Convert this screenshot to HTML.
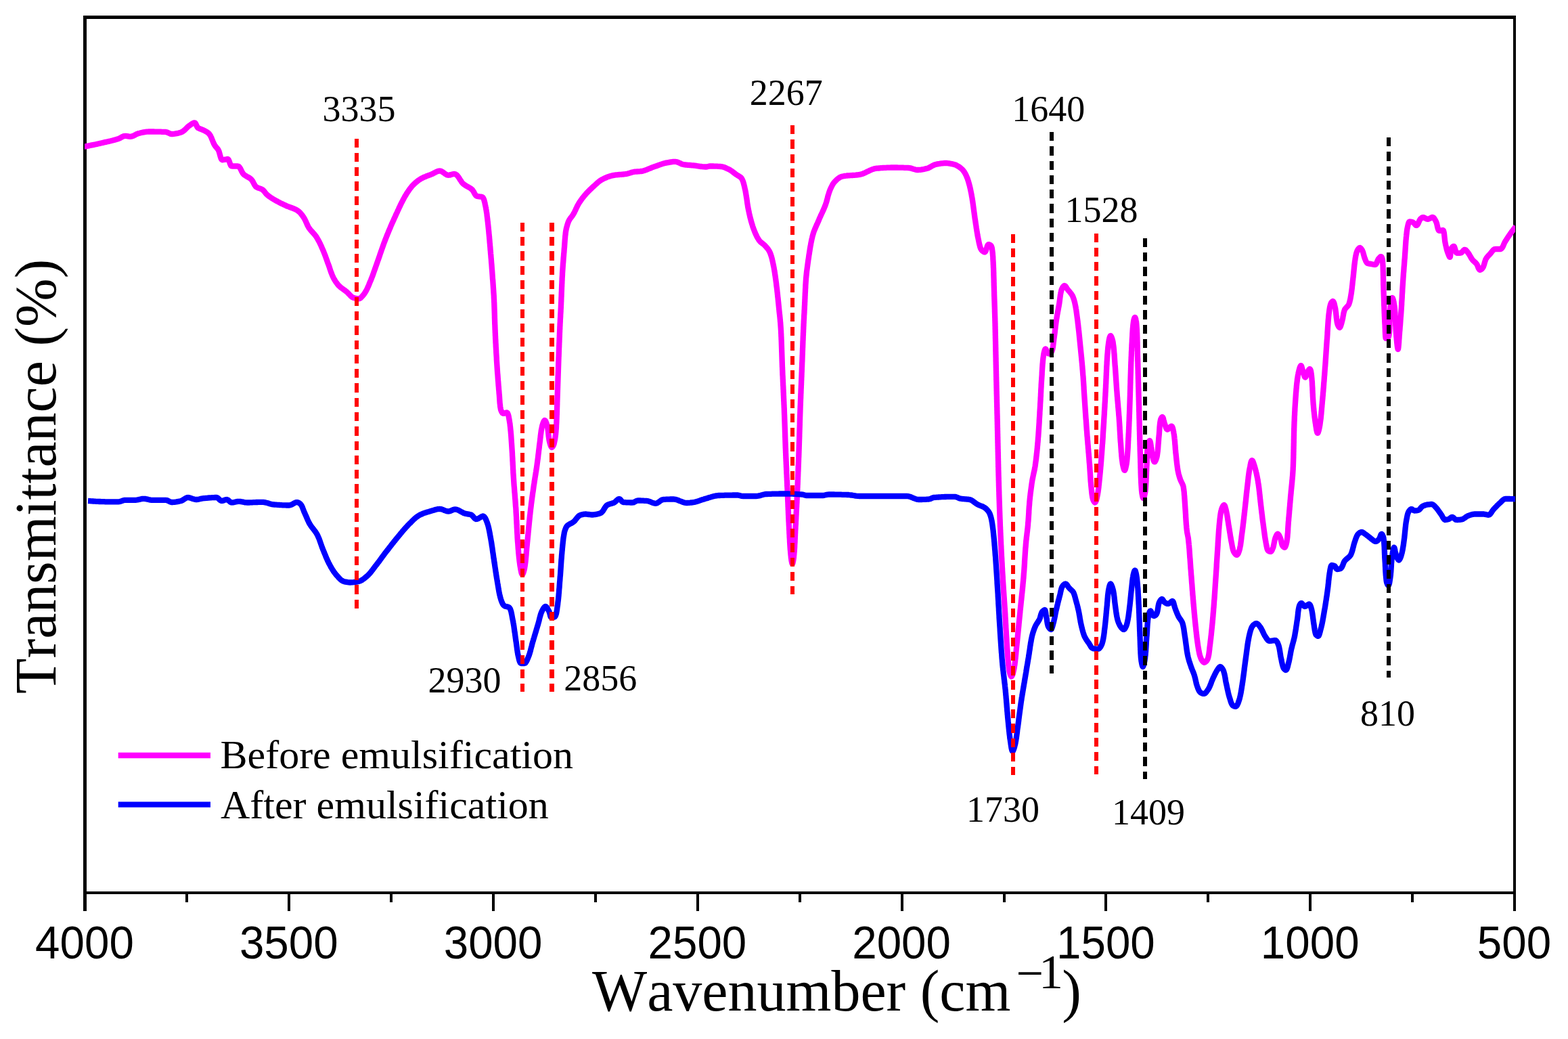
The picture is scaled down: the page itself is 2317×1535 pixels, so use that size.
<!DOCTYPE html>
<html lang="en"><head><meta charset="utf-8"><title>FTIR spectra before and after emulsification</title>
<style>html,body{margin:0;padding:0;background:#fff;}body{width:2317px;height:1535px;overflow:hidden;}svg{display:block;}text{fill:#000;font-kerning:none;}</style>
</head><body>
<svg width="2317" height="1535" viewBox="0 0 2317 1535" role="img" aria-label="FTIR transmittance spectra before and after emulsification">
<rect x="0" y="0" width="2317" height="1535" fill="#ffffff"/>
<defs><clipPath id="plotclip"><rect x="125" y="20" width="2114" height="1300"/></clipPath></defs>
<g id="axes" fill="#000000" shape-rendering="crispEdges">
<rect x="123" y="23" width="5" height="1323"/>
<rect x="123" y="23" width="2117" height="5"/>
<rect x="2236" y="23" width="4" height="1323"/>
<rect x="123" y="1317" width="2117" height="4"/>
<rect x="425" y="1319" width="4" height="27"/>
<rect x="727" y="1319" width="4" height="27"/>
<rect x="1029" y="1319" width="4" height="27"/>
<rect x="1331" y="1319" width="4" height="27"/>
<rect x="1632" y="1319" width="4" height="27"/>
<rect x="1934" y="1319" width="4" height="27"/>
<rect x="274" y="1319" width="4" height="14"/>
<rect x="576" y="1319" width="4" height="14"/>
<rect x="878" y="1319" width="4" height="14"/>
<rect x="1180" y="1319" width="4" height="14"/>
<rect x="1482" y="1319" width="4" height="14"/>
<rect x="1783" y="1319" width="4" height="14"/>
<rect x="2085" y="1319" width="4" height="14"/>
</g>
<g id="curve-before" clip-path="url(#plotclip)">
<polyline fill="none" stroke="#ff00ff" stroke-width="8.33" stroke-linejoin="round" stroke-linecap="butt" points="124.0,216.8 125.5,216.5 126.9,216.2 128.4,215.9 129.9,215.6 131.4,215.3 132.8,215.0 134.3,214.7 135.8,214.4 137.2,214.1 138.7,213.8 140.2,213.5 141.6,213.2 143.1,212.9 144.6,212.5 146.0,212.2 147.5,211.9 149.0,211.5 150.4,211.2 151.9,210.9 153.3,210.5 154.8,210.2 156.3,209.9 157.8,209.5 159.2,209.2 160.7,208.9 162.2,208.5 163.6,208.2 165.1,207.8 166.5,207.5 168.0,207.1 169.4,206.7 170.9,206.3 172.3,205.8 173.7,205.4 175.1,205.0 176.5,204.4 177.9,203.7 179.3,202.9 180.6,202.1 182.0,201.5 183.4,201.0 184.8,200.8 186.3,200.9 187.8,201.1 189.3,201.4 190.8,201.7 192.3,201.8 193.7,201.7 195.1,201.4 196.5,200.9 197.9,200.2 199.3,199.5 200.6,198.8 202.0,198.1 203.4,197.5 204.9,197.0 206.3,196.7 207.8,196.3 209.2,196.0 210.7,195.7 212.2,195.4 213.7,195.1 215.2,194.9 216.7,194.7 218.2,194.6 219.7,194.5 221.1,194.5 222.6,194.5 224.1,194.5 225.7,194.5 227.2,194.5 228.7,194.6 230.2,194.6 231.7,194.6 233.2,194.6 234.7,194.7 236.3,194.7 237.8,194.7 239.2,194.8 240.7,194.8 242.2,194.9 243.7,194.9 245.1,195.0 246.6,195.3 248.0,195.9 249.4,196.6 250.8,197.2 252.2,197.8 253.7,198.0 255.1,198.0 256.6,197.9 258.1,197.7 259.7,197.4 261.2,197.1 262.7,196.8 264.2,196.5 265.6,196.1 267.0,195.7 268.3,195.2 269.5,194.6 270.7,193.8 271.9,192.8 273.0,191.8 274.2,190.7 275.3,189.6 276.4,188.5 277.5,187.4 278.7,186.4 279.9,185.5 281.2,184.7 282.6,183.7 284.0,182.7 285.4,182.0 286.6,181.4 287.7,181.3 288.6,181.9 289.4,183.2 290.1,184.8 290.9,186.5 291.7,188.0 292.7,189.0 293.9,189.6 295.3,190.2 296.8,190.7 298.3,191.3 299.7,191.9 301.0,192.5 302.4,193.2 303.8,194.0 305.2,194.7 306.5,195.6 307.6,196.4 308.7,197.4 309.5,198.4 310.3,199.5 311.1,200.7 311.7,202.1 312.4,203.4 312.9,204.9 313.5,206.3 314.1,207.8 314.7,209.3 315.3,210.7 315.9,212.1 316.6,213.5 317.4,214.8 318.2,216.0 319.2,217.2 320.2,218.3 321.2,219.5 322.1,220.6 322.8,221.9 323.5,223.4 324.0,225.1 324.5,226.9 325.0,228.8 325.5,230.6 326.0,232.3 326.5,233.8 327.0,235.0 327.7,235.8 328.5,236.3 329.5,236.2 330.9,236.0 332.6,235.6 334.3,235.3 335.8,235.0 336.8,235.1 337.7,236.0 338.4,237.5 339.1,239.3 339.7,241.2 340.4,243.0 341.1,244.5 341.9,245.3 343.0,245.5 344.3,245.5 346.0,245.5 347.7,245.5 349.3,245.5 350.8,245.5 351.9,245.6 352.9,246.1 353.8,247.0 354.7,248.2 355.5,249.7 356.3,251.3 357.0,252.9 357.9,254.5 358.7,255.9 359.7,257.2 360.7,258.1 361.9,259.0 363.2,259.8 364.5,260.6 365.9,261.4 367.3,262.1 368.6,262.9 369.8,263.7 370.9,264.6 371.9,265.7 372.8,266.9 373.6,268.2 374.3,269.6 375.1,271.1 375.8,272.5 376.6,273.8 377.4,275.0 378.4,276.0 379.5,276.7 380.8,277.4 382.2,277.9 383.7,278.4 385.2,278.9 386.6,279.5 387.8,280.2 388.9,281.2 390.0,282.2 391.0,283.4 391.9,284.6 392.9,285.8 393.9,287.0 395.0,288.0 396.1,288.9 397.3,289.8 398.5,290.7 399.8,291.6 401.0,292.4 402.3,293.2 403.6,294.0 404.9,294.8 406.2,295.5 407.5,296.3 408.8,297.0 410.1,297.7 411.4,298.4 412.8,299.1 414.1,299.8 415.4,300.5 416.8,301.1 418.2,301.8 419.5,302.4 420.9,303.0 422.2,303.7 423.6,304.3 425.0,304.9 426.5,305.4 427.9,306.0 429.4,306.5 430.8,307.0 432.3,307.5 433.7,308.1 435.1,308.7 436.4,309.3 437.7,309.9 439.0,310.6 440.1,311.4 441.3,312.3 442.4,313.2 443.4,314.3 444.4,315.4 445.4,316.6 446.4,317.9 447.3,319.1 448.2,320.4 449.0,321.6 449.7,322.9 450.5,324.2 451.1,325.5 451.8,326.9 452.4,328.3 453.0,329.7 453.6,331.1 454.2,332.4 454.9,333.8 455.6,335.1 456.3,336.4 457.2,337.6 458.1,338.8 459.0,339.9 460.0,341.1 461.0,342.2 462.1,343.3 463.1,344.5 464.1,345.6 465.1,346.7 466.0,347.9 466.9,349.1 467.7,350.3 468.5,351.6 469.2,352.9 470.0,354.2 470.7,355.5 471.4,356.8 472.1,358.1 472.8,359.5 473.4,360.9 474.1,362.2 474.7,363.6 475.3,365.0 475.9,366.4 476.5,367.7 477.1,369.1 477.7,370.5 478.3,371.9 478.8,373.3 479.4,374.7 479.9,376.1 480.5,377.5 481.0,378.9 481.5,380.3 482.0,381.7 482.5,383.1 483.0,384.5 483.5,385.9 484.0,387.4 484.5,388.8 485.1,390.2 485.6,391.6 486.1,393.0 486.6,394.4 487.1,395.9 487.5,397.3 488.0,398.7 488.5,400.2 489.0,401.6 489.5,403.0 490.1,404.4 490.6,405.8 491.2,407.2 491.8,408.5 492.4,409.8 493.1,411.2 493.8,412.5 494.6,413.8 495.4,415.1 496.2,416.4 497.1,417.6 498.0,418.8 498.9,420.0 499.8,421.1 500.8,422.2 501.9,423.2 503.0,424.2 504.2,425.1 505.4,426.0 506.6,426.9 507.9,427.8 509.1,428.7 510.3,429.6 511.5,430.5 512.7,431.5 513.8,432.5 514.9,433.7 516.0,434.8 517.1,436.0 518.2,437.1 519.3,438.1 520.4,439.0 521.7,439.7 523.0,440.1 524.4,440.5 525.9,440.8 527.5,441.1 529.0,441.3 530.3,441.3 531.6,440.9 532.9,440.1 534.1,439.0 535.2,437.8 536.3,436.5 537.3,435.3 538.1,434.2 539.0,433.0 539.7,431.8 540.5,430.5 541.2,429.2 541.9,427.9 542.6,426.5 543.2,425.1 543.9,423.7 544.5,422.3 545.1,420.9 545.7,419.4 546.2,418.0 546.8,416.6 547.4,415.2 548.0,413.9 548.5,412.5 549.1,411.1 549.6,409.7 550.2,408.3 550.7,406.9 551.2,405.5 551.7,404.1 552.2,402.6 552.7,401.2 553.2,399.8 553.7,398.4 554.2,397.0 554.7,395.5 555.2,394.1 555.7,392.7 556.2,391.3 556.7,389.9 557.2,388.5 557.7,387.0 558.2,385.6 558.7,384.2 559.2,382.8 559.7,381.4 560.2,380.0 560.7,378.5 561.2,377.1 561.6,375.7 562.1,374.3 562.6,372.9 563.1,371.5 563.6,370.0 564.1,368.6 564.6,367.2 565.1,365.8 565.6,364.4 566.1,363.0 566.6,361.5 567.1,360.1 567.6,358.7 568.2,357.3 568.7,355.9 569.2,354.5 569.8,353.1 570.3,351.7 570.9,350.3 571.4,348.9 572.0,347.5 572.5,346.2 573.1,344.8 573.7,343.4 574.2,342.0 574.8,340.6 575.4,339.2 576.0,337.8 576.6,336.5 577.1,335.1 577.7,333.7 578.3,332.3 578.9,330.9 579.5,329.6 580.2,328.2 580.8,326.8 581.4,325.5 582.0,324.1 582.6,322.7 583.2,321.4 583.9,320.0 584.5,318.6 585.1,317.3 585.7,315.9 586.4,314.5 587.0,313.2 587.6,311.8 588.2,310.4 588.9,309.1 589.5,307.7 590.1,306.3 590.8,305.0 591.4,303.6 592.1,302.2 592.7,300.9 593.4,299.5 594.1,298.2 594.8,296.9 595.5,295.5 596.2,294.2 596.9,292.9 597.6,291.6 598.3,290.3 599.1,289.0 599.9,287.7 600.6,286.5 601.4,285.2 602.2,283.9 603.1,282.7 603.9,281.4 604.8,280.2 605.7,278.9 606.6,277.7 607.6,276.6 608.5,275.4 609.5,274.3 610.5,273.3 611.6,272.2 612.7,271.2 613.8,270.2 614.9,269.2 616.1,268.2 617.3,267.2 618.5,266.3 619.8,265.5 621.0,264.7 622.3,263.9 623.6,263.2 624.9,262.6 626.2,261.9 627.6,261.3 629.0,260.8 630.4,260.2 631.8,259.7 633.3,259.1 634.7,258.6 636.1,258.1 637.5,257.5 638.9,256.9 640.3,256.2 641.7,255.4 643.1,254.7 644.5,254.0 645.9,253.4 647.3,252.9 648.7,252.6 650.0,252.5 651.4,252.7 652.7,253.3 654.0,254.1 655.4,255.0 656.7,256.0 658.0,257.0 659.3,257.8 660.7,258.5 662.1,258.8 663.5,258.7 665.0,258.5 666.6,258.0 668.1,257.6 669.6,257.2 670.9,257.0 672.1,257.1 673.3,257.5 674.4,258.2 675.4,259.1 676.4,260.2 677.3,261.5 678.3,262.8 679.2,264.3 680.1,265.8 681.1,267.2 682.0,268.7 683.0,270.0 684.1,271.2 685.2,272.1 686.4,273.0 687.6,273.8 688.9,274.6 690.3,275.4 691.6,276.1 693.0,276.9 694.3,277.6 695.5,278.4 696.7,279.3 697.8,280.3 698.7,281.5 699.6,282.8 700.4,284.3 701.2,285.8 702.0,287.2 702.9,288.5 703.9,289.4 704.9,290.0 706.3,290.2 707.9,290.4 709.7,290.6 711.3,290.7 712.4,291.0 713.2,291.5 713.9,292.3 714.5,293.5 715.1,294.9 715.6,296.5 716.0,298.2 716.5,300.0 716.8,301.8 717.2,303.4 717.5,305.0 717.8,306.4 718.1,307.9 718.3,309.4 718.6,310.8 718.8,312.3 719.0,313.8 719.3,315.3 719.5,316.8 719.6,318.3 719.8,319.8 720.0,321.3 720.2,322.8 720.4,324.3 720.5,325.8 720.7,327.3 720.9,328.7 721.0,330.2 721.2,331.7 721.4,333.2 721.5,334.7 721.7,336.2 721.8,337.7 722.0,339.2 722.1,340.7 722.3,342.2 722.4,343.7 722.5,345.2 722.7,346.7 722.8,348.1 723.0,349.6 723.1,351.1 723.2,352.6 723.4,354.1 723.5,355.6 723.6,357.1 723.7,358.6 723.9,360.1 724.0,361.6 724.1,363.1 724.3,364.6 724.4,366.1 724.5,367.6 724.6,369.1 724.8,370.6 724.9,372.1 725.0,373.6 725.1,375.1 725.3,376.5 725.4,378.0 725.5,379.5 725.6,381.0 725.8,382.5 725.9,384.0 726.0,385.5 726.1,387.0 726.2,388.5 726.4,390.0 726.5,391.5 726.6,393.0 726.7,394.5 726.8,396.0 726.9,397.5 727.1,399.0 727.2,400.5 727.3,402.0 727.4,403.5 727.5,405.0 727.6,406.5 727.7,408.0 727.8,409.5 727.9,411.0 728.0,412.4 728.2,413.9 728.3,415.4 728.4,416.9 728.5,418.4 728.6,419.9 728.7,421.4 728.8,422.9 728.9,424.4 729.0,425.9 729.1,427.4 729.2,428.9 729.3,430.4 729.4,431.9 729.5,433.4 729.6,434.9 729.7,436.4 729.8,437.9 729.8,439.4 729.9,440.9 730.0,442.4 730.1,443.9 730.1,445.4 730.2,446.9 730.3,448.4 730.3,449.9 730.4,451.4 730.4,452.9 730.5,454.4 730.5,455.9 730.6,457.4 730.6,458.9 730.7,460.4 730.7,461.9 730.8,463.4 730.8,464.9 730.9,466.4 730.9,467.9 730.9,469.4 731.0,470.9 731.0,472.4 731.1,473.9 731.1,475.4 731.2,476.9 731.2,478.4 731.3,479.9 731.4,481.4 731.4,482.9 731.5,484.4 731.5,485.9 731.6,487.4 731.7,488.9 731.7,490.4 731.8,491.9 731.9,493.4 731.9,494.9 732.0,496.4 732.1,497.9 732.1,499.4 732.2,500.9 732.3,502.4 732.4,503.9 732.4,505.4 732.5,506.9 732.6,508.3 732.7,509.8 732.7,511.3 732.8,512.8 732.9,514.3 733.0,515.8 733.1,517.3 733.2,518.8 733.2,520.3 733.3,521.8 733.4,523.3 733.5,524.8 733.6,526.3 733.7,527.8 733.8,529.3 733.8,530.8 733.9,532.3 734.0,533.8 734.1,535.3 734.2,536.8 734.3,538.3 734.4,539.8 734.5,541.3 734.6,542.8 734.7,544.3 734.8,545.8 734.9,547.3 735.0,548.8 735.1,550.3 735.2,551.8 735.4,553.3 735.5,554.8 735.6,556.3 735.7,557.8 735.8,559.3 735.9,560.8 736.0,562.2 736.2,563.7 736.3,565.2 736.4,566.7 736.5,568.2 736.6,569.7 736.8,571.2 736.9,572.7 737.0,574.2 737.1,575.7 737.3,577.2 737.4,578.7 737.5,580.2 737.6,581.7 737.8,583.2 737.9,584.7 738.0,586.3 738.1,587.8 738.2,589.4 738.3,590.9 738.4,592.4 738.5,593.9 738.6,595.5 738.8,597.0 739.0,598.4 739.1,599.9 739.3,601.4 739.6,602.8 739.8,604.2 740.1,605.5 740.7,607.2 741.5,608.8 742.4,610.2 743.4,610.9 744.6,610.9 746.3,610.3 747.9,609.7 748.9,609.5 749.7,610.0 750.3,611.0 750.9,612.5 751.4,614.2 751.8,616.1 752.1,617.9 752.4,619.6 752.7,621.1 752.9,622.5 753.1,624.0 753.4,625.5 753.6,626.9 753.7,628.4 753.9,629.9 754.1,631.4 754.2,632.9 754.4,634.4 754.5,635.9 754.7,637.4 754.8,638.9 754.9,640.4 755.1,641.9 755.2,643.4 755.3,644.9 755.4,646.4 755.5,647.9 755.6,649.4 755.7,651.0 755.8,652.5 755.9,654.0 756.0,655.4 756.1,656.9 756.2,658.4 756.3,659.9 756.4,661.4 756.5,662.9 756.6,664.4 756.7,665.9 756.8,667.4 756.9,668.9 757.0,670.4 757.0,671.9 757.1,673.4 757.2,674.9 757.3,676.4 757.4,677.9 757.4,679.4 757.5,680.9 757.6,682.4 757.7,683.9 757.7,685.4 757.8,686.9 757.9,688.4 758.0,689.9 758.0,691.4 758.1,692.9 758.2,694.4 758.3,695.9 758.3,697.4 758.4,698.9 758.5,700.4 758.6,701.9 758.7,703.4 758.8,704.9 758.9,706.4 759.0,707.9 759.1,709.4 759.2,710.9 759.3,712.4 759.4,713.9 759.5,715.4 759.6,716.9 759.7,718.3 759.9,719.8 760.0,721.3 760.1,722.8 760.2,724.3 760.3,725.8 760.4,727.3 760.6,728.8 760.7,730.3 760.8,731.8 760.9,733.3 761.0,734.8 761.1,736.3 761.3,737.8 761.4,739.3 761.5,740.8 761.6,742.3 761.7,743.8 761.8,745.3 761.9,746.8 762.0,748.3 762.2,749.8 762.3,751.3 762.4,752.8 762.5,754.3 762.5,755.7 762.6,757.2 762.7,758.7 762.8,760.2 762.9,761.7 763.0,763.2 763.1,764.7 763.1,766.2 763.2,767.7 763.3,769.2 763.4,770.7 763.4,772.2 763.5,773.7 763.6,775.2 763.7,776.7 763.7,778.2 763.8,779.7 763.9,781.2 764.0,782.7 764.0,784.2 764.1,785.7 764.2,787.2 764.3,788.7 764.4,790.2 764.5,791.7 764.5,793.2 764.6,794.7 764.7,796.2 764.8,797.7 764.9,799.2 765.0,800.7 765.2,802.2 765.3,803.7 765.4,805.2 765.5,806.7 765.6,808.2 765.7,809.7 765.8,811.2 766.0,812.7 766.1,814.2 766.2,815.7 766.3,817.2 766.5,818.7 766.6,820.2 766.8,821.7 766.9,823.2 767.1,824.7 767.3,826.2 767.4,827.6 767.6,829.1 767.8,830.6 768.0,832.1 768.2,833.6 768.4,835.1 768.6,836.5 768.9,838.0 769.2,839.7 769.5,841.6 769.9,843.5 770.3,845.4 770.7,846.9 771.2,848.1 771.6,848.7 772.1,848.7 772.6,847.9 773.2,846.5 773.8,844.8 774.3,842.9 774.8,841.1 775.1,839.6 775.3,838.1 775.6,836.7 775.8,835.2 776.0,833.7 776.2,832.3 776.4,830.8 776.6,829.3 776.7,827.8 776.9,826.3 777.0,824.8 777.2,823.3 777.3,821.8 777.5,820.3 777.6,818.8 777.7,817.3 777.8,815.8 778.0,814.3 778.1,812.8 778.2,811.2 778.3,809.7 778.5,808.2 778.6,806.7 778.8,805.2 778.9,803.8 779.1,802.3 779.2,800.8 779.4,799.3 779.5,797.8 779.7,796.3 779.8,794.8 780.0,793.3 780.1,791.8 780.3,790.3 780.4,788.8 780.5,787.3 780.7,785.8 780.8,784.3 781.0,782.8 781.1,781.4 781.2,779.9 781.4,778.4 781.5,776.9 781.7,775.4 781.8,773.9 782.0,772.4 782.1,770.9 782.3,769.4 782.4,767.9 782.6,766.4 782.7,764.9 782.9,763.4 783.0,761.9 783.2,760.5 783.4,759.0 783.5,757.5 783.7,756.0 783.9,754.5 784.0,753.0 784.2,751.5 784.4,750.0 784.6,748.5 784.8,747.0 784.9,745.6 785.1,744.1 785.3,742.6 785.5,741.1 785.7,739.6 785.9,738.1 786.1,736.6 786.3,735.1 786.5,733.7 786.7,732.2 786.9,730.7 787.1,729.2 787.3,727.7 787.6,726.2 787.8,724.7 788.0,723.3 788.2,721.8 788.4,720.3 788.6,718.8 788.8,717.3 789.0,715.8 789.3,714.4 789.5,712.9 789.7,711.4 789.9,709.9 790.2,708.4 790.4,706.9 790.6,705.5 790.9,704.0 791.1,702.5 791.4,701.0 791.6,699.5 791.8,698.0 792.1,696.6 792.3,695.1 792.5,693.6 792.8,692.1 793.0,690.6 793.2,689.2 793.4,687.7 793.6,686.2 793.8,684.7 794.0,683.2 794.2,681.7 794.4,680.2 794.6,678.7 794.8,677.3 795.0,675.8 795.2,674.3 795.3,672.8 795.5,671.3 795.7,669.8 795.9,668.3 796.0,666.8 796.2,665.3 796.4,663.9 796.6,662.4 796.8,660.9 796.9,659.4 797.1,657.9 797.3,656.4 797.5,654.9 797.7,653.4 797.9,651.9 798.1,650.4 798.2,648.9 798.4,647.4 798.6,645.9 798.7,644.4 798.9,642.9 799.1,641.4 799.3,639.9 799.5,638.4 799.7,636.9 799.9,635.4 800.2,634.0 800.5,632.5 800.8,631.1 801.1,629.7 801.5,628.0 802.1,626.2 802.7,624.4 803.4,622.8 804.1,621.7 804.8,621.0 805.4,621.2 806.1,622.0 806.7,623.4 807.4,625.1 808.0,626.9 808.5,628.7 808.8,630.2 809.2,631.7 809.4,633.1 809.6,634.6 809.8,636.1 810.0,637.6 810.2,639.1 810.3,640.6 810.5,642.1 810.6,643.6 810.8,645.1 811.0,646.6 811.2,648.1 811.4,649.6 811.7,651.1 812.0,652.5 812.4,654.1 812.9,655.9 813.5,657.7 814.1,659.3 814.8,660.5 815.4,661.0 816.1,660.6 817.0,659.4 817.8,657.8 818.5,656.1 818.9,654.6 819.2,653.2 819.5,651.7 819.8,650.3 820.1,648.8 820.3,647.4 820.5,645.9 820.7,644.4 820.9,642.9 821.1,641.4 821.2,639.8 821.4,638.3 821.5,636.8 821.6,635.3 821.8,633.7 821.9,632.2 822.0,630.7 822.0,629.2 822.1,627.7 822.2,626.2 822.3,624.8 822.4,623.3 822.4,621.8 822.5,620.3 822.6,618.8 822.6,617.3 822.7,615.8 822.7,614.3 822.8,612.8 822.9,611.3 822.9,609.8 823.0,608.3 823.0,606.8 823.0,605.3 823.1,603.8 823.1,602.3 823.2,600.8 823.2,599.3 823.3,597.8 823.3,596.3 823.3,594.8 823.4,593.3 823.4,591.8 823.5,590.3 823.5,588.8 823.6,587.3 823.6,585.8 823.7,584.3 823.7,582.8 823.8,581.3 823.8,579.8 823.9,578.3 823.9,576.8 824.0,575.3 824.0,573.8 824.1,572.3 824.1,570.8 824.2,569.3 824.2,567.8 824.3,566.3 824.3,564.8 824.4,563.3 824.4,561.8 824.5,560.3 824.5,558.8 824.6,557.3 824.6,555.8 824.7,554.3 824.7,552.8 824.8,551.3 824.8,549.8 824.9,548.3 824.9,546.8 825.0,545.3 825.0,543.8 825.1,542.3 825.1,540.8 825.2,539.3 825.2,537.8 825.3,536.3 825.3,534.8 825.4,533.3 825.4,531.8 825.5,530.3 825.5,528.8 825.6,527.3 825.7,525.8 825.7,524.3 825.8,522.8 825.8,521.3 825.9,519.8 825.9,518.3 826.0,516.8 826.0,515.3 826.1,513.8 826.2,512.3 826.2,510.8 826.3,509.3 826.3,507.8 826.4,506.3 826.5,504.8 826.5,503.3 826.6,501.8 826.6,500.3 826.7,498.8 826.8,497.3 826.8,495.8 826.9,494.3 826.9,492.8 827.0,491.3 827.1,489.8 827.1,488.3 827.2,486.8 827.3,485.3 827.3,483.8 827.4,482.3 827.5,480.8 827.5,479.3 827.6,477.8 827.7,476.3 827.8,474.8 827.8,473.3 827.9,471.8 828.0,470.3 828.1,468.8 828.2,467.3 828.2,465.8 828.3,464.3 828.4,462.8 828.5,461.3 828.6,459.8 828.6,458.3 828.7,456.8 828.8,455.3 828.9,453.8 828.9,452.3 829.0,450.8 829.1,449.3 829.1,447.8 829.2,446.3 829.3,444.8 829.3,443.3 829.4,441.8 829.4,440.3 829.5,438.9 829.6,437.4 829.6,435.9 829.7,434.4 829.7,432.9 829.8,431.4 829.9,429.9 829.9,428.4 830.0,426.9 830.0,425.4 830.1,423.9 830.2,422.4 830.2,420.9 830.3,419.4 830.4,417.9 830.4,416.4 830.5,414.9 830.6,413.4 830.6,411.9 830.7,410.4 830.8,408.9 830.9,407.4 831.0,405.9 831.0,404.4 831.1,402.9 831.2,401.4 831.3,399.9 831.4,398.4 831.5,396.9 831.6,395.4 831.7,393.9 831.8,392.4 831.9,390.9 832.0,389.4 832.2,387.9 832.3,386.4 832.4,384.9 832.5,383.4 832.6,381.9 832.7,380.4 832.9,378.9 833.0,377.4 833.1,376.0 833.2,374.5 833.4,373.0 833.5,371.5 833.6,370.0 833.7,368.5 833.8,367.0 834.0,365.5 834.1,364.0 834.2,362.5 834.3,361.0 834.4,359.5 834.5,358.0 834.6,356.5 834.7,355.0 834.8,353.5 835.0,352.0 835.1,350.5 835.2,349.0 835.4,347.5 835.6,346.0 835.7,344.5 835.9,343.1 836.1,341.6 836.4,340.1 836.7,338.6 837.0,337.1 837.4,335.7 837.8,334.2 838.2,332.7 838.6,331.3 839.1,329.9 839.6,328.5 840.1,327.1 840.8,325.8 841.5,324.5 842.3,323.3 843.2,322.1 844.1,320.8 845.1,319.6 846.0,318.4 846.8,317.1 847.6,315.8 848.3,314.5 849.0,313.2 849.6,311.8 850.3,310.5 850.9,309.1 851.5,307.7 852.2,306.4 852.8,305.0 853.5,303.7 854.2,302.4 855.0,301.1 855.7,299.8 856.5,298.6 857.4,297.3 858.2,296.1 859.1,294.9 860.0,293.6 860.9,292.4 861.9,291.3 862.8,290.1 863.8,288.9 864.8,287.8 865.7,286.7 866.7,285.5 867.7,284.4 868.8,283.4 869.8,282.3 870.9,281.2 872.0,280.2 873.0,279.1 874.1,278.1 875.2,277.1 876.3,276.0 877.5,275.0 878.6,274.0 879.7,273.0 880.8,272.0 882.0,270.9 883.1,269.9 884.3,268.9 885.4,268.0 886.6,267.1 887.9,266.3 889.1,265.5 890.4,264.8 891.7,264.2 893.0,263.5 894.4,262.9 895.8,262.3 897.2,261.7 898.6,261.2 900.1,260.7 901.5,260.2 903.0,259.8 904.5,259.4 905.9,259.1 907.4,258.8 908.8,258.6 910.3,258.4 911.8,258.3 913.3,258.1 914.8,258.0 916.3,257.9 917.8,257.8 919.3,257.6 920.8,257.5 922.3,257.3 923.8,257.2 925.3,257.0 926.7,256.7 928.2,256.3 929.6,255.9 931.1,255.4 932.5,255.0 934.0,254.5 935.4,254.2 936.9,253.9 938.4,253.7 939.9,253.6 941.4,253.5 942.9,253.4 944.4,253.3 945.9,253.2 947.4,253.0 948.8,252.8 950.3,252.5 951.7,252.1 953.1,251.6 954.5,251.1 955.9,250.6 957.3,250.0 958.7,249.4 960.2,248.9 961.6,248.3 963.0,247.7 964.4,247.2 965.8,246.7 967.2,246.2 968.6,245.7 970.1,245.2 971.5,244.7 972.9,244.1 974.3,243.6 975.7,243.1 977.2,242.6 978.6,242.2 980.0,241.7 981.5,241.3 982.9,240.9 984.3,240.6 985.8,240.3 987.3,240.1 988.8,239.8 990.3,239.5 991.8,239.3 993.3,239.1 994.8,238.9 996.2,238.8 997.7,238.8 999.1,239.0 1000.6,239.3 1002.0,239.9 1003.4,240.5 1004.8,241.1 1006.2,241.8 1007.6,242.4 1009.1,242.8 1010.5,243.1 1012.0,243.3 1013.5,243.5 1015.0,243.6 1016.4,243.8 1017.9,243.9 1019.5,244.0 1021.0,244.1 1022.5,244.3 1024.0,244.4 1025.5,244.5 1026.9,244.7 1028.4,244.9 1029.9,245.2 1031.4,245.4 1032.9,245.6 1034.4,245.8 1035.9,246.0 1037.4,246.2 1038.9,246.3 1040.4,246.4 1041.9,246.5 1043.3,246.5 1044.8,246.3 1046.3,246.0 1047.8,245.7 1049.3,245.5 1050.8,245.5 1052.3,245.5 1053.8,245.5 1055.3,245.6 1056.8,245.6 1058.3,245.7 1059.8,245.7 1061.3,245.8 1062.8,245.9 1064.3,246.0 1065.8,246.1 1067.2,246.3 1068.7,246.7 1070.1,247.1 1071.5,247.7 1072.9,248.3 1074.3,249.0 1075.7,249.6 1077.1,250.3 1078.4,250.9 1079.6,251.7 1080.9,252.5 1082.1,253.4 1083.3,254.3 1084.5,255.2 1085.7,256.2 1086.9,257.1 1088.2,258.0 1089.5,258.8 1090.9,259.6 1092.2,260.5 1093.5,261.3 1094.7,262.3 1095.6,263.2 1096.3,264.3 1096.9,265.5 1097.5,266.8 1098.0,268.2 1098.5,269.6 1098.9,271.1 1099.3,272.6 1099.7,274.2 1100.1,275.7 1100.4,277.3 1100.7,278.8 1101.1,280.3 1101.4,281.7 1101.7,283.2 1101.9,284.6 1102.2,286.1 1102.4,287.6 1102.7,289.1 1102.9,290.6 1103.1,292.0 1103.4,293.5 1103.6,295.0 1103.8,296.5 1104.0,298.0 1104.2,299.5 1104.4,301.0 1104.7,302.5 1104.9,304.0 1105.1,305.4 1105.4,306.9 1105.7,308.4 1106.0,309.9 1106.3,311.3 1106.6,312.8 1106.9,314.3 1107.2,315.7 1107.6,317.2 1107.9,318.7 1108.2,320.1 1108.6,321.6 1109.0,323.1 1109.4,324.5 1109.7,326.0 1110.1,327.4 1110.6,328.9 1111.0,330.3 1111.4,331.7 1111.9,333.1 1112.3,334.6 1112.8,336.0 1113.3,337.4 1113.8,338.8 1114.4,340.2 1114.9,341.7 1115.5,343.1 1116.1,344.5 1116.7,346.0 1117.4,347.3 1118.0,348.7 1118.7,350.1 1119.5,351.4 1120.2,352.6 1121.0,353.9 1121.8,355.1 1122.7,356.2 1123.6,357.2 1124.8,358.2 1126.0,359.2 1127.2,360.1 1128.4,361.0 1129.5,362.0 1130.6,363.1 1131.6,364.2 1132.6,365.4 1133.6,366.5 1134.6,367.7 1135.5,369.0 1136.3,370.2 1137.0,371.5 1137.6,372.8 1138.2,374.1 1138.7,375.5 1139.2,376.9 1139.6,378.3 1140.1,379.8 1140.5,381.3 1140.9,382.7 1141.2,384.2 1141.6,385.7 1141.9,387.2 1142.2,388.7 1142.5,390.1 1142.8,391.6 1143.1,393.1 1143.4,394.5 1143.7,396.0 1143.9,397.5 1144.2,399.0 1144.4,400.4 1144.7,401.9 1144.9,403.4 1145.1,404.9 1145.3,406.4 1145.6,407.9 1145.8,409.4 1146.0,410.9 1146.2,412.3 1146.4,413.8 1146.6,415.3 1146.8,416.8 1147.0,418.3 1147.2,419.8 1147.3,421.3 1147.5,422.8 1147.7,424.3 1147.9,425.7 1148.1,427.2 1148.3,428.7 1148.4,430.2 1148.6,431.7 1148.8,433.2 1148.9,434.7 1149.1,436.2 1149.2,437.7 1149.4,439.2 1149.6,440.7 1149.7,442.1 1149.9,443.6 1150.0,445.1 1150.2,446.6 1150.3,448.1 1150.5,449.6 1150.6,451.1 1150.8,452.6 1150.9,454.1 1151.1,455.6 1151.2,457.1 1151.4,458.6 1151.5,460.1 1151.7,461.6 1151.8,463.0 1152.0,464.5 1152.2,466.0 1152.3,467.5 1152.5,469.0 1152.6,470.5 1152.8,472.0 1152.9,473.5 1153.0,475.0 1153.2,476.5 1153.3,478.0 1153.4,479.5 1153.5,481.0 1153.6,482.5 1153.7,484.0 1153.8,485.5 1153.9,487.0 1154.0,488.5 1154.1,490.0 1154.1,491.4 1154.2,492.9 1154.3,494.4 1154.3,495.9 1154.4,497.4 1154.5,498.9 1154.5,500.4 1154.6,501.9 1154.7,503.4 1154.7,504.9 1154.8,506.4 1154.8,507.9 1154.9,509.4 1154.9,510.9 1155.0,512.4 1155.0,513.9 1155.1,515.4 1155.1,516.9 1155.2,518.4 1155.2,519.9 1155.3,521.4 1155.3,522.9 1155.4,524.4 1155.4,525.9 1155.5,527.4 1155.5,528.9 1155.6,530.4 1155.6,531.9 1155.7,533.4 1155.7,534.9 1155.8,536.4 1155.8,537.9 1155.9,539.4 1155.9,540.9 1156.0,542.4 1156.1,543.9 1156.1,545.4 1156.2,546.9 1156.3,548.4 1156.3,549.9 1156.4,551.4 1156.4,552.9 1156.5,554.4 1156.6,555.9 1156.7,557.4 1156.7,558.9 1156.8,560.4 1156.9,561.9 1156.9,563.4 1157.0,564.9 1157.1,566.4 1157.1,567.9 1157.2,569.4 1157.3,570.9 1157.4,572.4 1157.4,573.9 1157.5,575.4 1157.6,576.9 1157.6,578.4 1157.7,579.9 1157.8,581.4 1157.8,582.9 1157.9,584.4 1158.0,585.9 1158.0,587.4 1158.1,588.9 1158.2,590.4 1158.2,591.9 1158.3,593.4 1158.4,594.9 1158.4,596.4 1158.5,597.9 1158.6,599.4 1158.6,600.9 1158.7,602.4 1158.8,603.9 1158.8,605.4 1158.9,606.9 1158.9,608.4 1159.0,609.9 1159.0,611.4 1159.1,612.9 1159.2,614.4 1159.2,615.9 1159.3,617.4 1159.3,618.9 1159.4,620.4 1159.4,621.9 1159.5,623.4 1159.5,624.9 1159.6,626.4 1159.6,627.9 1159.7,629.4 1159.7,630.9 1159.8,632.4 1159.8,633.9 1159.9,635.4 1159.9,636.9 1160.0,638.4 1160.0,639.9 1160.1,641.4 1160.1,642.9 1160.2,644.4 1160.2,645.9 1160.3,647.4 1160.3,648.9 1160.4,650.4 1160.4,651.9 1160.5,653.4 1160.5,654.9 1160.6,656.4 1160.6,657.9 1160.7,659.4 1160.7,660.9 1160.8,662.4 1160.9,663.9 1160.9,665.3 1161.0,666.8 1161.0,668.3 1161.1,669.8 1161.2,671.3 1161.2,672.8 1161.3,674.3 1161.3,675.8 1161.4,677.3 1161.5,678.8 1161.5,680.3 1161.6,681.8 1161.7,683.3 1161.7,684.8 1161.8,686.3 1161.9,687.8 1161.9,689.3 1162.0,690.8 1162.1,692.3 1162.1,693.8 1162.2,695.3 1162.3,696.8 1162.3,698.3 1162.4,699.8 1162.5,701.3 1162.6,702.8 1162.6,704.3 1162.7,705.8 1162.8,707.3 1162.8,708.8 1162.9,710.3 1163.0,711.8 1163.0,713.3 1163.1,714.8 1163.2,716.3 1163.2,717.8 1163.3,719.3 1163.4,720.8 1163.5,722.3 1163.5,723.8 1163.6,725.3 1163.7,726.8 1163.7,728.3 1163.8,729.8 1163.9,731.3 1163.9,732.8 1164.0,734.3 1164.1,735.8 1164.1,737.3 1164.2,738.8 1164.2,740.3 1164.3,741.8 1164.4,743.3 1164.4,744.8 1164.5,746.3 1164.5,747.8 1164.6,749.3 1164.7,750.8 1164.7,752.3 1164.8,753.8 1164.9,755.3 1164.9,756.8 1165.0,758.3 1165.0,759.8 1165.1,761.3 1165.2,762.8 1165.2,764.3 1165.3,765.8 1165.4,767.3 1165.4,768.8 1165.5,770.3 1165.6,771.8 1165.7,773.3 1165.7,774.8 1165.8,776.3 1165.9,777.8 1166.0,779.3 1166.0,780.8 1166.1,782.3 1166.2,783.8 1166.3,785.3 1166.3,786.8 1166.4,788.3 1166.5,789.8 1166.6,791.3 1166.6,792.8 1166.7,794.3 1166.8,795.8 1166.9,797.3 1167.0,798.8 1167.0,800.3 1167.1,801.8 1167.2,803.3 1167.3,804.8 1167.4,806.3 1167.5,807.8 1167.6,809.3 1167.7,810.8 1167.8,812.2 1168.0,813.7 1168.1,815.2 1168.2,816.7 1168.4,818.2 1168.5,819.7 1168.7,821.2 1168.8,822.7 1169.0,824.4 1169.3,826.3 1169.5,828.2 1169.9,830.0 1170.2,831.6 1170.5,832.6 1170.8,833.0 1171.1,832.6 1171.5,831.6 1171.8,830.1 1172.2,828.3 1172.5,826.4 1172.8,824.4 1173.0,822.7 1173.1,821.3 1173.3,819.8 1173.4,818.3 1173.5,816.8 1173.7,815.3 1173.8,813.8 1173.9,812.3 1174.0,810.8 1174.1,809.3 1174.2,807.8 1174.2,806.3 1174.3,804.8 1174.4,803.3 1174.5,801.8 1174.6,800.3 1174.6,798.8 1174.7,797.3 1174.8,795.8 1174.8,794.3 1174.9,792.8 1175.0,791.3 1175.0,789.8 1175.1,788.3 1175.2,786.8 1175.2,785.3 1175.3,783.8 1175.4,782.3 1175.5,780.8 1175.5,779.3 1175.6,777.8 1175.7,776.3 1175.8,774.8 1175.9,773.3 1175.9,771.8 1176.0,770.3 1176.1,768.8 1176.2,767.3 1176.3,765.8 1176.3,764.3 1176.4,762.8 1176.5,761.3 1176.6,759.8 1176.6,758.3 1176.7,756.8 1176.8,755.3 1176.9,753.8 1176.9,752.3 1177.0,750.8 1177.1,749.3 1177.2,747.8 1177.2,746.3 1177.3,744.9 1177.4,743.4 1177.5,741.9 1177.5,740.4 1177.6,738.9 1177.7,737.4 1177.7,735.9 1177.8,734.4 1177.9,732.9 1177.9,731.4 1178.0,729.9 1178.1,728.4 1178.1,726.9 1178.2,725.4 1178.3,723.9 1178.3,722.4 1178.4,720.9 1178.5,719.4 1178.5,717.9 1178.6,716.4 1178.7,714.9 1178.7,713.4 1178.8,711.9 1178.8,710.4 1178.9,708.9 1179.0,707.4 1179.0,705.9 1179.1,704.4 1179.2,702.9 1179.2,701.4 1179.3,699.9 1179.3,698.4 1179.4,696.9 1179.5,695.4 1179.5,693.9 1179.6,692.4 1179.6,690.9 1179.7,689.4 1179.7,687.9 1179.8,686.4 1179.9,684.9 1179.9,683.4 1180.0,681.9 1180.0,680.4 1180.1,678.9 1180.1,677.4 1180.2,675.9 1180.3,674.4 1180.3,672.9 1180.4,671.4 1180.4,669.9 1180.5,668.4 1180.5,666.9 1180.6,665.4 1180.6,663.9 1180.7,662.4 1180.7,660.9 1180.8,659.4 1180.8,657.9 1180.9,656.4 1180.9,654.9 1181.0,653.4 1181.0,651.9 1181.1,650.4 1181.1,648.9 1181.2,647.4 1181.2,645.9 1181.3,644.4 1181.3,642.9 1181.3,641.4 1181.4,639.9 1181.4,638.4 1181.5,636.9 1181.5,635.4 1181.6,633.9 1181.6,632.4 1181.7,630.9 1181.7,629.4 1181.8,627.9 1181.8,626.4 1181.8,624.9 1181.9,623.4 1181.9,621.9 1182.0,620.4 1182.0,618.9 1182.1,617.4 1182.1,615.9 1182.2,614.4 1182.2,612.9 1182.3,611.4 1182.3,609.9 1182.4,608.4 1182.4,606.9 1182.5,605.4 1182.5,603.9 1182.6,602.4 1182.6,600.9 1182.7,599.4 1182.8,597.9 1182.8,596.4 1182.9,594.9 1182.9,593.4 1183.0,591.9 1183.0,590.4 1183.1,588.9 1183.2,587.4 1183.2,585.9 1183.3,584.4 1183.3,582.9 1183.4,581.4 1183.5,579.9 1183.5,578.4 1183.6,576.9 1183.6,575.4 1183.7,573.9 1183.8,572.4 1183.8,570.9 1183.9,569.4 1184.0,567.9 1184.0,566.5 1184.1,565.0 1184.1,563.5 1184.2,562.0 1184.3,560.5 1184.3,559.0 1184.4,557.5 1184.5,556.0 1184.5,554.5 1184.6,553.0 1184.6,551.5 1184.7,550.0 1184.8,548.5 1184.8,547.0 1184.9,545.5 1184.9,544.0 1185.0,542.5 1185.1,541.0 1185.1,539.5 1185.2,538.0 1185.2,536.5 1185.3,535.0 1185.4,533.5 1185.4,532.0 1185.5,530.5 1185.5,529.0 1185.6,527.5 1185.6,526.0 1185.7,524.5 1185.8,523.0 1185.8,521.5 1185.9,520.0 1185.9,518.5 1186.0,517.0 1186.0,515.5 1186.1,514.0 1186.2,512.5 1186.2,511.0 1186.3,509.5 1186.3,508.0 1186.4,506.5 1186.4,505.0 1186.5,503.5 1186.6,502.0 1186.6,500.5 1186.7,499.0 1186.7,497.5 1186.8,496.0 1186.9,494.5 1186.9,493.0 1187.0,491.5 1187.1,490.0 1187.1,488.5 1187.2,487.0 1187.3,485.5 1187.3,484.0 1187.4,482.5 1187.5,481.0 1187.5,479.5 1187.6,478.0 1187.7,476.5 1187.7,475.0 1187.8,473.5 1187.9,472.0 1188.0,470.5 1188.1,469.0 1188.1,467.5 1188.2,466.0 1188.3,464.5 1188.4,463.0 1188.5,461.5 1188.5,460.0 1188.6,458.5 1188.7,457.0 1188.8,455.5 1188.8,454.0 1188.9,452.5 1189.0,451.0 1189.1,449.5 1189.1,448.0 1189.2,446.5 1189.3,445.0 1189.3,443.5 1189.4,442.0 1189.5,440.5 1189.5,439.0 1189.6,437.5 1189.7,436.0 1189.7,434.5 1189.8,433.0 1189.9,431.5 1190.0,430.0 1190.0,428.5 1190.1,427.0 1190.2,425.6 1190.3,424.1 1190.3,422.6 1190.4,421.1 1190.5,419.6 1190.6,418.1 1190.7,416.6 1190.8,415.1 1190.9,413.6 1191.0,412.1 1191.1,410.6 1191.3,409.1 1191.4,407.6 1191.6,406.1 1191.7,404.6 1191.9,403.1 1192.0,401.6 1192.2,400.2 1192.4,398.7 1192.6,397.2 1192.8,395.7 1193.0,394.2 1193.2,392.7 1193.4,391.2 1193.6,389.7 1193.8,388.2 1194.0,386.8 1194.2,385.3 1194.4,383.8 1194.7,382.3 1194.9,380.8 1195.1,379.3 1195.3,377.8 1195.5,376.4 1195.8,374.9 1196.0,373.4 1196.2,371.9 1196.5,370.4 1196.7,368.9 1196.9,367.4 1197.2,365.9 1197.4,364.4 1197.7,363.0 1198.0,361.5 1198.2,360.0 1198.5,358.5 1198.8,357.1 1199.1,355.6 1199.4,354.1 1199.7,352.7 1200.1,351.2 1200.4,349.8 1200.8,348.3 1201.2,346.9 1201.6,345.5 1202.0,344.1 1202.5,342.7 1203.0,341.2 1203.6,339.8 1204.1,338.5 1204.7,337.1 1205.3,335.7 1205.9,334.3 1206.5,332.9 1207.1,331.5 1207.8,330.2 1208.4,328.8 1209.0,327.4 1209.6,326.0 1210.2,324.6 1210.7,323.3 1211.3,321.9 1212.0,320.5 1212.6,319.1 1213.2,317.8 1213.8,316.4 1214.5,315.0 1215.1,313.7 1215.7,312.3 1216.4,310.9 1217.0,309.6 1217.6,308.2 1218.1,306.8 1218.7,305.4 1219.3,304.0 1219.8,302.6 1220.3,301.2 1220.7,299.8 1221.2,298.4 1221.6,296.9 1222.0,295.5 1222.4,294.0 1222.8,292.5 1223.1,291.1 1223.5,289.6 1223.9,288.2 1224.4,286.7 1224.8,285.3 1225.3,283.9 1225.8,282.5 1226.3,281.1 1226.9,279.7 1227.5,278.3 1228.2,276.9 1228.9,275.5 1229.6,274.1 1230.3,272.8 1231.1,271.5 1231.9,270.3 1232.8,269.2 1233.7,268.2 1234.8,267.1 1235.9,266.0 1237.1,264.9 1238.3,263.9 1239.6,263.0 1240.9,262.1 1242.3,261.4 1243.6,260.9 1245.0,260.5 1246.3,260.3 1247.7,260.0 1249.2,259.8 1250.6,259.7 1252.1,259.5 1253.6,259.4 1255.1,259.3 1256.7,259.2 1258.2,259.1 1259.8,259.0 1261.3,258.9 1262.8,258.8 1264.4,258.7 1265.9,258.5 1267.4,258.4 1268.9,258.2 1270.3,257.9 1271.8,257.6 1273.2,257.2 1274.6,256.8 1276.0,256.2 1277.4,255.6 1278.8,255.0 1280.2,254.3 1281.6,253.6 1283.0,252.9 1284.4,252.3 1285.8,251.6 1287.2,251.0 1288.6,250.4 1290.0,249.9 1291.4,249.5 1292.8,249.1 1294.3,248.9 1295.7,248.7 1297.2,248.6 1298.6,248.5 1300.1,248.4 1301.6,248.2 1303.1,248.1 1304.6,248.0 1306.1,247.9 1307.6,247.9 1309.1,247.8 1310.6,247.7 1312.2,247.7 1313.7,247.6 1315.2,247.6 1316.7,247.5 1318.2,247.5 1319.7,247.5 1321.2,247.5 1322.7,247.5 1324.2,247.5 1325.7,247.5 1327.2,247.6 1328.7,247.6 1330.2,247.6 1331.7,247.6 1333.2,247.7 1334.7,247.7 1336.2,247.8 1337.7,247.8 1339.2,247.9 1340.7,247.9 1342.2,248.0 1343.7,248.1 1345.1,248.4 1346.6,248.7 1348.1,249.2 1349.5,249.7 1351.0,250.1 1352.4,250.5 1353.9,250.8 1355.4,251.0 1356.9,251.0 1358.3,250.9 1359.8,250.8 1361.3,250.6 1362.8,250.3 1364.3,250.1 1365.8,249.8 1367.3,249.4 1368.8,249.1 1370.2,248.8 1371.6,248.3 1373.0,247.7 1374.3,247.0 1375.6,246.2 1377.0,245.4 1378.3,244.7 1379.7,244.0 1381.0,243.4 1382.4,243.0 1383.9,242.7 1385.3,242.4 1386.8,242.1 1388.3,241.9 1389.8,241.6 1391.3,241.4 1392.8,241.3 1394.3,241.1 1395.8,241.0 1397.3,241.0 1398.8,241.0 1400.3,241.1 1401.8,241.3 1403.3,241.5 1404.8,241.8 1406.3,242.1 1407.8,242.4 1409.2,242.8 1410.6,243.2 1412.0,243.6 1413.4,244.3 1414.7,245.0 1416.1,245.8 1417.4,246.6 1418.7,247.6 1419.9,248.5 1421.0,249.5 1422.1,250.5 1423.0,251.5 1423.9,252.7 1424.7,253.8 1425.5,255.1 1426.3,256.4 1427.0,257.8 1427.7,259.2 1428.3,260.7 1428.9,262.1 1429.5,263.5 1430.0,264.9 1430.4,266.3 1430.9,267.7 1431.3,269.1 1431.7,270.6 1432.1,272.0 1432.5,273.5 1432.9,274.9 1433.2,276.4 1433.6,277.9 1433.9,279.3 1434.2,280.8 1434.5,282.3 1434.8,283.8 1435.1,285.3 1435.4,286.8 1435.7,288.2 1435.9,289.7 1436.2,291.2 1436.5,292.7 1436.7,294.1 1436.9,295.6 1437.2,297.1 1437.4,298.6 1437.6,300.1 1437.8,301.5 1438.0,303.0 1438.2,304.5 1438.4,306.0 1438.6,307.5 1438.8,309.0 1439.0,310.5 1439.2,312.0 1439.4,313.5 1439.6,314.9 1439.8,316.4 1440.0,317.9 1440.2,319.4 1440.4,320.9 1440.6,322.4 1440.8,323.9 1441.1,325.4 1441.3,326.8 1441.5,328.3 1441.7,329.8 1441.9,331.3 1442.2,332.8 1442.4,334.3 1442.6,335.8 1442.8,337.2 1443.1,338.7 1443.3,340.2 1443.5,341.7 1443.8,343.2 1444.0,344.7 1444.3,346.1 1444.5,347.6 1444.8,349.1 1445.1,350.6 1445.4,352.0 1445.7,353.5 1446.0,355.0 1446.3,356.4 1446.6,358.0 1446.9,359.5 1447.3,361.1 1447.7,362.6 1448.1,364.1 1448.5,365.6 1449.0,366.9 1449.6,368.1 1450.3,369.2 1451.4,370.4 1452.8,371.5 1454.2,372.3 1455.2,372.5 1456.0,371.9 1456.7,370.6 1457.3,368.9 1457.9,366.9 1458.5,364.9 1459.1,363.2 1459.8,361.8 1460.6,361.1 1461.7,361.2 1463.2,361.9 1464.5,363.1 1465.1,364.2 1465.5,365.3 1465.8,366.5 1466.0,367.9 1466.2,369.3 1466.4,370.8 1466.6,372.4 1466.8,373.9 1466.9,375.6 1467.0,377.2 1467.2,378.8 1467.3,380.5 1467.3,382.1 1467.4,383.7 1467.5,385.2 1467.6,386.7 1467.7,388.2 1467.7,389.7 1467.8,391.2 1467.9,392.6 1467.9,394.1 1468.0,395.6 1468.1,397.1 1468.1,398.6 1468.2,400.1 1468.2,401.6 1468.3,403.1 1468.3,404.6 1468.3,406.1 1468.4,407.6 1468.4,409.1 1468.5,410.6 1468.5,412.1 1468.6,413.6 1468.6,415.1 1468.6,416.6 1468.7,418.1 1468.7,419.7 1468.7,421.2 1468.8,422.7 1468.8,424.2 1468.9,425.7 1468.9,427.2 1469.0,428.7 1469.0,430.2 1469.1,431.7 1469.1,433.2 1469.1,434.7 1469.2,436.2 1469.2,437.7 1469.3,439.1 1469.3,440.6 1469.4,442.1 1469.4,443.6 1469.5,445.1 1469.5,446.6 1469.6,448.1 1469.6,449.6 1469.7,451.1 1469.7,452.6 1469.8,454.1 1469.8,455.6 1469.9,457.1 1469.9,458.6 1469.9,460.1 1470.0,461.6 1470.0,463.1 1470.1,464.6 1470.1,466.1 1470.2,467.6 1470.2,469.1 1470.3,470.6 1470.3,472.1 1470.3,473.6 1470.4,475.1 1470.4,476.6 1470.5,478.1 1470.5,479.6 1470.5,481.1 1470.6,482.6 1470.6,484.1 1470.6,485.6 1470.7,487.1 1470.7,488.6 1470.7,490.1 1470.8,491.6 1470.8,493.1 1470.8,494.6 1470.9,496.1 1470.9,497.6 1470.9,499.1 1471.0,500.6 1471.0,502.1 1471.0,503.6 1471.1,505.1 1471.1,506.6 1471.1,508.1 1471.2,509.6 1471.2,511.1 1471.2,512.6 1471.3,514.1 1471.3,515.6 1471.3,517.1 1471.3,518.6 1471.4,520.1 1471.4,521.6 1471.4,523.1 1471.5,524.6 1471.5,526.1 1471.5,527.6 1471.6,529.1 1471.6,530.6 1471.6,532.1 1471.6,533.6 1471.7,535.1 1471.7,536.6 1471.7,538.1 1471.8,539.6 1471.8,541.1 1471.8,542.6 1471.9,544.1 1471.9,545.6 1471.9,547.1 1472.0,548.6 1472.0,550.1 1472.0,551.6 1472.1,553.1 1472.1,554.6 1472.1,556.1 1472.2,557.6 1472.2,559.1 1472.2,560.6 1472.3,562.1 1472.3,563.6 1472.4,565.1 1472.4,566.6 1472.4,568.1 1472.5,569.6 1472.5,571.1 1472.5,572.6 1472.6,574.1 1472.6,575.6 1472.6,577.1 1472.7,578.6 1472.7,580.1 1472.7,581.6 1472.8,583.1 1472.8,584.6 1472.9,586.1 1472.9,587.6 1472.9,589.1 1473.0,590.6 1473.0,592.1 1473.0,593.6 1473.1,595.1 1473.1,596.6 1473.2,598.1 1473.2,599.6 1473.2,601.1 1473.3,602.6 1473.3,604.1 1473.3,605.6 1473.4,607.1 1473.4,608.6 1473.4,610.1 1473.5,611.6 1473.5,613.1 1473.6,614.6 1473.6,616.1 1473.6,617.6 1473.7,619.1 1473.7,620.6 1473.7,622.1 1473.8,623.6 1473.8,625.1 1473.8,626.6 1473.9,628.1 1473.9,629.6 1473.9,631.1 1474.0,632.6 1474.0,634.1 1474.0,635.6 1474.1,637.1 1474.1,638.6 1474.1,640.1 1474.2,641.6 1474.2,643.1 1474.2,644.6 1474.3,646.1 1474.3,647.6 1474.3,649.1 1474.4,650.6 1474.4,652.1 1474.4,653.6 1474.5,655.1 1474.5,656.6 1474.5,658.1 1474.6,659.6 1474.6,661.1 1474.6,662.6 1474.7,664.1 1474.7,665.6 1474.7,667.1 1474.8,668.6 1474.8,670.1 1474.8,671.6 1474.9,673.1 1474.9,674.6 1474.9,676.1 1475.0,677.6 1475.0,679.1 1475.0,680.6 1475.1,682.1 1475.1,683.6 1475.1,685.1 1475.2,686.6 1475.2,688.1 1475.2,689.6 1475.3,691.1 1475.3,692.6 1475.3,694.1 1475.4,695.6 1475.4,697.1 1475.5,698.6 1475.5,700.1 1475.5,701.6 1475.6,703.1 1475.6,704.6 1475.7,706.1 1475.7,707.6 1475.7,709.1 1475.8,710.6 1475.8,712.1 1475.9,713.6 1475.9,715.1 1475.9,716.6 1476.0,718.1 1476.0,719.6 1476.1,721.1 1476.1,722.6 1476.2,724.1 1476.2,725.6 1476.3,727.1 1476.3,728.6 1476.3,730.1 1476.4,731.6 1476.4,733.1 1476.5,734.6 1476.5,736.1 1476.6,737.6 1476.6,739.1 1476.7,740.6 1476.7,742.1 1476.8,743.6 1476.8,745.1 1476.9,746.6 1476.9,748.1 1477.0,749.6 1477.0,751.1 1477.1,752.6 1477.1,754.1 1477.2,755.6 1477.2,757.1 1477.3,758.6 1477.3,760.1 1477.4,761.6 1477.4,763.1 1477.5,764.6 1477.5,766.1 1477.6,767.6 1477.7,769.1 1477.7,770.6 1477.8,772.1 1477.8,773.6 1477.9,775.1 1477.9,776.6 1478.0,778.1 1478.1,779.6 1478.1,781.1 1478.2,782.6 1478.3,784.1 1478.3,785.6 1478.4,787.1 1478.5,788.6 1478.5,790.1 1478.6,791.6 1478.7,793.1 1478.7,794.6 1478.8,796.1 1478.9,797.6 1478.9,799.1 1479.0,800.6 1479.1,802.1 1479.1,803.6 1479.2,805.1 1479.3,806.6 1479.4,808.1 1479.4,809.6 1479.5,811.1 1479.6,812.6 1479.6,814.1 1479.7,815.6 1479.8,817.1 1479.9,818.6 1479.9,820.1 1480.0,821.6 1480.1,823.0 1480.2,824.5 1480.3,826.0 1480.3,827.5 1480.4,829.0 1480.5,830.5 1480.6,832.0 1480.7,833.5 1480.7,835.0 1480.8,836.5 1480.9,838.0 1481.0,839.5 1481.1,841.0 1481.1,842.5 1481.2,844.0 1481.3,845.5 1481.4,847.0 1481.5,848.5 1481.6,850.0 1481.7,851.5 1481.8,853.0 1481.8,854.5 1481.9,856.0 1482.0,857.5 1482.1,859.0 1482.2,860.5 1482.3,862.0 1482.4,863.5 1482.5,865.0 1482.6,866.5 1482.7,868.0 1482.8,869.5 1482.9,871.0 1483.0,872.5 1483.1,874.0 1483.2,875.5 1483.3,877.0 1483.4,878.5 1483.5,880.0 1483.6,881.4 1483.7,882.9 1483.8,884.4 1483.9,885.9 1484.0,887.4 1484.1,888.9 1484.2,890.4 1484.3,891.9 1484.4,893.4 1484.5,894.9 1484.6,896.4 1484.7,897.9 1484.8,899.4 1484.9,900.9 1485.0,902.4 1485.1,903.9 1485.2,905.4 1485.3,906.9 1485.4,908.4 1485.4,909.9 1485.5,911.4 1485.6,912.9 1485.7,914.4 1485.8,915.9 1485.9,917.4 1485.9,918.9 1486.0,920.4 1486.1,921.9 1486.2,923.4 1486.3,924.9 1486.3,926.4 1486.4,927.9 1486.5,929.4 1486.6,930.9 1486.7,932.4 1486.8,933.9 1486.8,935.4 1486.9,936.9 1487.0,938.4 1487.1,939.9 1487.2,941.4 1487.3,942.9 1487.4,944.4 1487.5,945.9 1487.5,947.4 1487.6,948.9 1487.7,950.3 1487.8,951.8 1487.9,953.3 1488.0,954.8 1488.1,956.3 1488.2,957.8 1488.4,959.3 1488.5,960.8 1488.6,962.3 1488.7,963.8 1488.8,965.3 1488.9,966.8 1489.1,968.3 1489.2,969.8 1489.3,971.3 1489.4,972.8 1489.5,974.4 1489.6,975.9 1489.8,977.4 1489.9,978.9 1490.1,980.4 1490.2,981.9 1490.4,983.4 1490.6,984.9 1490.7,986.4 1491.0,987.9 1491.2,989.3 1491.4,990.8 1491.7,992.2 1492.0,993.6 1492.4,995.2 1493.0,997.1 1493.7,998.6 1494.3,999.5 1494.9,999.3 1495.5,998.4 1496.1,997.0 1496.7,995.3 1497.2,993.5 1497.6,991.6 1498.0,990.0 1498.3,988.6 1498.6,987.1 1498.8,985.7 1499.0,984.2 1499.3,982.7 1499.5,981.3 1499.7,979.8 1499.9,978.3 1500.1,976.8 1500.2,975.3 1500.4,973.8 1500.6,972.3 1500.7,970.8 1500.9,969.3 1501.0,967.8 1501.2,966.3 1501.3,964.8 1501.4,963.3 1501.6,961.8 1501.7,960.3 1501.9,958.8 1502.0,957.3 1502.2,955.8 1502.3,954.3 1502.5,952.8 1502.6,951.3 1502.8,949.8 1503.0,948.3 1503.1,946.8 1503.3,945.3 1503.4,943.8 1503.6,942.3 1503.7,940.8 1503.9,939.3 1504.0,937.9 1504.2,936.4 1504.3,934.9 1504.5,933.4 1504.6,931.9 1504.8,930.4 1504.9,928.9 1505.1,927.4 1505.2,925.9 1505.4,924.4 1505.5,922.9 1505.6,921.4 1505.8,919.9 1505.9,918.4 1506.1,917.0 1506.2,915.5 1506.4,914.0 1506.5,912.5 1506.7,911.0 1506.8,909.5 1507.0,908.0 1507.1,906.5 1507.3,905.0 1507.4,903.5 1507.5,902.0 1507.7,900.5 1507.9,899.0 1508.0,897.5 1508.2,896.1 1508.3,894.6 1508.5,893.1 1508.6,891.6 1508.8,890.1 1508.9,888.6 1509.1,887.1 1509.3,885.6 1509.4,884.1 1509.6,882.6 1509.7,881.1 1509.9,879.6 1510.0,878.1 1510.2,876.7 1510.4,875.2 1510.5,873.7 1510.7,872.2 1510.8,870.7 1511.0,869.2 1511.1,867.7 1511.3,866.2 1511.4,864.7 1511.5,863.2 1511.7,861.7 1511.8,860.2 1512.0,858.7 1512.1,857.2 1512.2,855.7 1512.4,854.3 1512.5,852.8 1512.6,851.3 1512.7,849.8 1512.8,848.3 1512.9,846.8 1513.1,845.3 1513.2,843.8 1513.3,842.3 1513.4,840.8 1513.5,839.3 1513.6,837.8 1513.7,836.3 1513.8,834.8 1513.9,833.3 1514.0,831.8 1514.0,830.3 1514.1,828.8 1514.2,827.3 1514.3,825.8 1514.4,824.3 1514.5,822.8 1514.6,821.3 1514.7,819.8 1514.8,818.3 1514.9,816.8 1515.0,815.3 1515.1,813.8 1515.2,812.3 1515.3,810.8 1515.4,809.4 1515.6,807.9 1515.7,806.4 1515.8,804.9 1515.9,803.4 1516.1,801.9 1516.2,800.4 1516.3,798.9 1516.5,797.4 1516.7,795.9 1516.8,794.4 1517.0,792.9 1517.2,791.4 1517.4,789.9 1517.5,788.5 1517.7,787.0 1517.9,785.5 1518.1,784.0 1518.2,782.5 1518.4,781.0 1518.6,779.5 1518.7,778.0 1518.9,776.5 1519.0,775.0 1519.1,773.5 1519.2,772.0 1519.4,770.5 1519.5,769.1 1519.6,767.6 1519.7,766.1 1519.8,764.6 1519.9,763.1 1520.0,761.6 1520.1,760.1 1520.2,758.6 1520.3,757.1 1520.3,755.6 1520.4,754.1 1520.5,752.6 1520.6,751.1 1520.7,749.6 1520.8,748.1 1521.0,746.6 1521.1,745.1 1521.2,743.6 1521.3,742.1 1521.4,740.6 1521.6,739.1 1521.7,737.6 1521.9,736.1 1522.0,734.6 1522.2,733.2 1522.4,731.7 1522.5,730.2 1522.7,728.7 1522.9,727.2 1523.1,725.7 1523.3,724.2 1523.5,722.7 1523.7,721.2 1523.9,719.7 1524.1,718.3 1524.3,716.8 1524.5,715.3 1524.7,713.8 1525.0,712.3 1525.2,710.8 1525.4,709.4 1525.7,707.9 1526.0,706.4 1526.3,704.9 1526.6,703.5 1526.9,702.0 1527.2,700.5 1527.5,699.1 1527.8,697.6 1528.2,696.1 1528.5,694.7 1528.8,693.2 1529.0,691.7 1529.3,690.2 1529.6,688.8 1529.8,687.3 1530.0,685.8 1530.2,684.3 1530.4,682.8 1530.6,681.4 1530.8,679.9 1531.0,678.4 1531.2,676.9 1531.3,675.4 1531.5,673.9 1531.7,672.4 1531.8,670.9 1532.0,669.4 1532.2,667.9 1532.3,666.4 1532.5,664.9 1532.6,663.5 1532.8,662.0 1532.9,660.5 1533.0,659.0 1533.2,657.5 1533.3,656.0 1533.4,654.5 1533.6,653.0 1533.7,651.5 1533.8,650.0 1533.9,648.5 1534.0,647.0 1534.2,645.5 1534.3,644.0 1534.4,642.5 1534.5,641.0 1534.6,639.5 1534.7,638.0 1534.8,636.5 1534.9,635.0 1535.0,633.5 1535.1,632.0 1535.2,630.5 1535.3,629.1 1535.4,627.6 1535.5,626.1 1535.6,624.6 1535.7,623.1 1535.7,621.6 1535.8,620.1 1535.9,618.6 1536.0,617.1 1536.1,615.6 1536.2,614.1 1536.3,612.6 1536.4,611.1 1536.4,609.6 1536.5,608.1 1536.6,606.6 1536.7,605.1 1536.8,603.6 1536.9,602.1 1537.0,600.6 1537.1,599.1 1537.1,597.6 1537.2,596.1 1537.3,594.6 1537.4,593.1 1537.5,591.6 1537.6,590.1 1537.6,588.6 1537.7,587.1 1537.8,585.6 1537.9,584.1 1537.9,582.6 1538.0,581.1 1538.1,579.6 1538.2,578.1 1538.2,576.6 1538.3,575.1 1538.4,573.6 1538.5,572.1 1538.6,570.6 1538.6,569.1 1538.7,567.6 1538.8,566.1 1538.9,564.6 1539.0,563.1 1539.1,561.6 1539.2,560.1 1539.3,558.6 1539.4,557.1 1539.5,555.7 1539.6,554.2 1539.7,552.7 1539.7,551.2 1539.8,549.6 1539.9,548.1 1540.0,546.6 1540.1,545.1 1540.2,543.6 1540.3,542.1 1540.4,540.6 1540.5,539.1 1540.6,537.6 1540.8,536.1 1540.9,534.6 1541.0,533.1 1541.2,531.6 1541.3,530.1 1541.5,528.7 1541.7,527.2 1541.9,525.7 1542.1,524.2 1542.4,522.5 1542.8,520.6 1543.3,518.7 1543.8,517.1 1544.3,516.0 1544.9,515.5 1545.5,516.0 1546.2,517.3 1547.0,519.2 1547.9,520.9 1548.8,522.2 1549.9,522.5 1551.3,521.9 1552.8,521.0 1553.8,520.0 1554.3,519.0 1554.7,517.8 1555.1,516.6 1555.4,515.2 1555.7,513.7 1556.0,512.2 1556.2,510.6 1556.4,508.9 1556.6,507.3 1556.8,505.6 1557.0,504.0 1557.2,502.4 1557.4,500.8 1557.6,499.4 1557.8,497.9 1558.0,496.4 1558.2,494.9 1558.4,493.4 1558.6,491.9 1558.8,490.4 1558.9,488.9 1559.1,487.4 1559.3,486.0 1559.5,484.5 1559.6,483.0 1559.8,481.5 1560.0,480.0 1560.2,478.5 1560.4,477.0 1560.6,475.5 1560.8,474.0 1561.0,472.6 1561.2,471.1 1561.5,469.6 1561.7,468.1 1562.0,466.6 1562.2,465.2 1562.5,463.7 1562.8,462.2 1563.0,460.7 1563.3,459.3 1563.6,457.8 1563.9,456.3 1564.1,454.8 1564.4,453.4 1564.7,451.9 1564.9,450.4 1565.2,448.9 1565.4,447.4 1565.6,445.9 1565.8,444.4 1566.0,442.8 1566.2,441.3 1566.4,439.7 1566.6,438.2 1566.8,436.7 1567.0,435.2 1567.3,433.7 1567.5,432.3 1567.9,430.9 1568.2,429.5 1568.6,428.1 1569.1,426.8 1569.9,425.2 1570.8,423.7 1571.9,422.5 1572.9,422.0 1573.9,422.4 1574.8,423.4 1575.8,424.9 1576.7,426.4 1577.7,427.7 1578.6,428.9 1579.6,430.0 1580.6,431.2 1581.6,432.4 1582.5,433.6 1583.4,434.8 1584.2,436.0 1584.9,437.3 1585.5,438.6 1586.0,440.0 1586.5,441.4 1587.0,442.8 1587.4,444.3 1587.8,445.8 1588.2,447.2 1588.5,448.7 1588.8,450.2 1589.1,451.6 1589.4,453.1 1589.7,454.6 1589.9,456.1 1590.2,457.5 1590.4,459.0 1590.6,460.5 1590.8,462.0 1591.0,463.5 1591.2,465.0 1591.4,466.5 1591.6,468.0 1591.8,469.5 1592.0,470.9 1592.2,472.4 1592.4,473.9 1592.6,475.4 1592.7,476.9 1592.9,478.4 1593.1,479.9 1593.3,481.4 1593.4,482.9 1593.6,484.4 1593.8,485.8 1593.9,487.3 1594.1,488.8 1594.3,490.3 1594.4,491.8 1594.6,493.3 1594.7,494.8 1594.9,496.3 1595.0,497.8 1595.2,499.3 1595.3,500.8 1595.5,502.3 1595.6,503.8 1595.8,505.3 1595.9,506.7 1596.1,508.2 1596.2,509.7 1596.4,511.2 1596.5,512.7 1596.7,514.2 1596.8,515.7 1597.0,517.2 1597.1,518.7 1597.3,520.2 1597.4,521.7 1597.6,523.2 1597.7,524.7 1597.9,526.2 1598.0,527.6 1598.2,529.1 1598.3,530.6 1598.4,532.1 1598.6,533.6 1598.7,535.1 1598.9,536.6 1599.0,538.1 1599.1,539.6 1599.3,541.1 1599.4,542.6 1599.5,544.1 1599.6,545.6 1599.8,547.1 1599.9,548.6 1600.0,550.1 1600.1,551.6 1600.2,553.0 1600.3,554.5 1600.5,556.0 1600.6,557.5 1600.7,559.0 1600.8,560.5 1600.9,562.0 1601.0,563.5 1601.1,565.0 1601.2,566.5 1601.3,568.0 1601.4,569.5 1601.5,571.0 1601.6,572.5 1601.6,574.0 1601.7,575.5 1601.8,577.0 1601.9,578.5 1602.0,580.0 1602.1,581.5 1602.2,583.0 1602.3,584.5 1602.4,586.0 1602.5,587.5 1602.6,589.0 1602.7,590.5 1602.8,592.0 1602.9,593.5 1603.0,595.0 1603.1,596.5 1603.2,598.0 1603.3,599.5 1603.4,601.0 1603.5,602.4 1603.6,603.9 1603.7,605.4 1603.8,606.9 1603.9,608.4 1604.0,609.9 1604.1,611.4 1604.2,612.9 1604.3,614.4 1604.4,615.9 1604.5,617.4 1604.6,618.9 1604.8,620.4 1604.9,621.9 1605.0,623.4 1605.1,624.9 1605.2,626.4 1605.3,627.9 1605.4,629.4 1605.5,630.9 1605.6,632.4 1605.7,633.9 1605.8,635.4 1606.0,636.9 1606.1,638.4 1606.2,639.9 1606.3,641.4 1606.4,642.9 1606.5,644.3 1606.7,645.8 1606.8,647.3 1606.9,648.8 1607.0,650.3 1607.2,651.8 1607.3,653.3 1607.4,654.8 1607.5,656.3 1607.7,657.8 1607.8,659.3 1607.9,660.8 1608.0,662.3 1608.2,663.8 1608.3,665.3 1608.4,666.8 1608.5,668.3 1608.7,669.8 1608.8,671.3 1608.9,672.8 1609.0,674.2 1609.2,675.7 1609.3,677.2 1609.4,678.7 1609.5,680.2 1609.6,681.7 1609.7,683.2 1609.9,684.7 1610.0,686.2 1610.1,687.7 1610.2,689.2 1610.3,690.7 1610.4,692.2 1610.5,693.7 1610.6,695.2 1610.7,696.7 1610.8,698.2 1610.9,699.7 1611.0,701.2 1611.1,702.7 1611.2,704.2 1611.3,705.7 1611.4,707.2 1611.5,708.7 1611.6,710.2 1611.7,711.7 1611.9,713.2 1612.0,714.7 1612.1,716.1 1612.3,717.6 1612.4,719.1 1612.6,720.6 1612.7,722.1 1612.9,723.6 1613.0,725.2 1613.2,726.7 1613.3,728.2 1613.5,729.7 1613.7,731.2 1614.0,732.7 1614.2,734.2 1614.5,735.6 1614.9,737.0 1615.3,738.5 1616.1,740.2 1617.0,741.6 1617.8,742.5 1618.5,742.2 1619.1,741.2 1619.8,739.6 1620.3,737.8 1620.8,736.0 1621.1,734.5 1621.4,733.0 1621.7,731.6 1622.0,730.1 1622.2,728.7 1622.5,727.2 1622.7,725.7 1622.9,724.2 1623.1,722.7 1623.3,721.2 1623.5,719.7 1623.6,718.2 1623.8,716.7 1624.0,715.2 1624.1,713.7 1624.3,712.2 1624.4,710.7 1624.6,709.2 1624.7,707.7 1624.9,706.2 1625.0,704.7 1625.2,703.2 1625.3,701.7 1625.5,700.2 1625.6,698.8 1625.8,697.3 1625.9,695.8 1626.0,694.3 1626.2,692.8 1626.3,691.3 1626.4,689.8 1626.6,688.3 1626.7,686.8 1626.8,685.3 1626.9,683.8 1627.1,682.3 1627.2,680.8 1627.3,679.3 1627.4,677.8 1627.5,676.3 1627.6,674.8 1627.7,673.3 1627.9,671.8 1628.0,670.3 1628.1,668.8 1628.2,667.3 1628.3,665.9 1628.4,664.4 1628.5,662.9 1628.6,661.4 1628.7,659.9 1628.8,658.4 1628.9,656.9 1629.1,655.4 1629.2,653.9 1629.3,652.4 1629.4,650.9 1629.5,649.4 1629.6,647.9 1629.7,646.4 1629.8,644.9 1629.8,643.4 1629.9,641.9 1630.0,640.4 1630.1,638.9 1630.2,637.4 1630.3,635.9 1630.4,634.4 1630.5,632.9 1630.6,631.4 1630.7,629.9 1630.8,628.4 1630.9,626.9 1631.0,625.4 1631.1,623.9 1631.2,622.4 1631.2,620.9 1631.3,619.4 1631.4,617.9 1631.5,616.4 1631.6,614.9 1631.7,613.5 1631.8,612.0 1631.9,610.5 1631.9,609.0 1632.0,607.5 1632.1,606.0 1632.2,604.5 1632.3,603.0 1632.4,601.5 1632.5,600.0 1632.5,598.5 1632.6,597.0 1632.7,595.5 1632.8,594.0 1632.9,592.5 1633.0,591.0 1633.0,589.5 1633.1,588.0 1633.2,586.5 1633.3,585.0 1633.4,583.5 1633.4,582.0 1633.5,580.5 1633.6,579.0 1633.7,577.5 1633.7,576.0 1633.8,574.5 1633.9,573.0 1634.0,571.5 1634.0,570.0 1634.1,568.5 1634.2,567.0 1634.3,565.5 1634.3,564.0 1634.4,562.5 1634.4,561.0 1634.5,559.5 1634.6,558.0 1634.6,556.5 1634.7,555.0 1634.8,553.5 1634.8,552.0 1634.9,550.5 1635.0,549.0 1635.0,547.5 1635.1,546.0 1635.2,544.5 1635.2,543.0 1635.3,541.5 1635.4,540.0 1635.5,538.5 1635.6,537.0 1635.6,535.5 1635.7,534.0 1635.8,532.5 1635.9,531.0 1636.0,529.6 1636.1,528.1 1636.2,526.6 1636.3,525.0 1636.4,523.5 1636.6,522.0 1636.7,520.5 1636.8,519.0 1636.9,517.5 1637.1,516.0 1637.2,514.5 1637.3,513.0 1637.5,511.5 1637.7,510.0 1637.9,508.5 1638.1,507.1 1638.3,505.6 1638.5,504.1 1638.8,502.7 1639.1,501.0 1639.5,499.2 1640.1,497.5 1640.6,496.3 1641.2,496.0 1641.7,496.7 1642.4,497.9 1643.0,499.5 1643.6,501.3 1644.1,503.2 1644.5,504.8 1644.7,506.2 1644.9,507.7 1645.1,509.2 1645.3,510.6 1645.5,512.1 1645.7,513.6 1645.8,515.1 1646.0,516.6 1646.1,518.1 1646.2,519.6 1646.3,521.1 1646.5,522.6 1646.6,524.1 1646.7,525.6 1646.8,527.1 1646.9,528.6 1647.0,530.1 1647.1,531.7 1647.2,533.2 1647.3,534.7 1647.4,536.2 1647.5,537.7 1647.6,539.2 1647.7,540.7 1647.9,542.1 1648.0,543.6 1648.1,545.1 1648.2,546.6 1648.3,548.1 1648.4,549.6 1648.5,551.1 1648.6,552.6 1648.7,554.1 1648.8,555.6 1648.9,557.1 1649.0,558.6 1649.1,560.1 1649.2,561.6 1649.3,563.1 1649.4,564.6 1649.5,566.1 1649.6,567.6 1649.7,569.1 1649.8,570.6 1649.9,572.1 1650.0,573.6 1650.1,575.1 1650.2,576.6 1650.4,578.1 1650.5,579.6 1650.6,581.1 1650.7,582.6 1650.8,584.1 1650.9,585.5 1651.1,587.0 1651.2,588.5 1651.3,590.0 1651.4,591.5 1651.6,593.0 1651.7,594.5 1651.8,596.0 1652.0,597.5 1652.1,599.0 1652.2,600.5 1652.3,602.0 1652.5,603.5 1652.6,605.0 1652.7,606.5 1652.9,608.0 1653.0,609.5 1653.1,611.0 1653.2,612.5 1653.3,614.0 1653.5,615.4 1653.6,616.9 1653.7,618.4 1653.8,619.9 1653.9,621.4 1654.0,622.9 1654.1,624.4 1654.2,625.9 1654.3,627.4 1654.4,628.9 1654.5,630.4 1654.6,631.9 1654.6,633.4 1654.7,634.9 1654.8,636.4 1654.9,637.9 1655.0,639.4 1655.1,640.9 1655.2,642.4 1655.3,643.9 1655.3,645.4 1655.4,646.9 1655.5,648.4 1655.6,649.9 1655.7,651.4 1655.8,652.9 1656.0,654.4 1656.1,655.9 1656.2,657.4 1656.3,658.9 1656.4,660.4 1656.5,661.9 1656.6,663.4 1656.7,664.9 1656.8,666.4 1656.9,667.9 1657.1,669.4 1657.2,670.9 1657.3,672.4 1657.4,673.9 1657.6,675.4 1657.7,676.9 1657.9,678.4 1658.1,679.8 1658.3,681.3 1658.5,682.8 1658.7,684.3 1658.9,685.8 1659.3,687.5 1659.7,689.4 1660.2,691.3 1660.7,693.0 1661.1,694.2 1661.6,694.9 1662.0,694.9 1662.4,694.3 1662.9,693.2 1663.3,691.7 1663.7,689.9 1664.1,688.0 1664.5,686.1 1664.8,684.2 1665.0,682.6 1665.2,681.1 1665.3,679.6 1665.5,678.2 1665.6,676.7 1665.7,675.2 1665.9,673.7 1666.0,672.2 1666.1,670.7 1666.2,669.2 1666.3,667.7 1666.4,666.2 1666.5,664.7 1666.6,663.2 1666.7,661.7 1666.8,660.2 1666.8,658.7 1666.9,657.2 1667.0,655.7 1667.1,654.2 1667.1,652.7 1667.2,651.2 1667.3,649.7 1667.3,648.2 1667.4,646.7 1667.5,645.2 1667.6,643.7 1667.6,642.2 1667.7,640.7 1667.8,639.2 1667.9,637.7 1667.9,636.2 1668.0,634.7 1668.1,633.2 1668.1,631.7 1668.2,630.2 1668.3,628.7 1668.3,627.2 1668.4,625.7 1668.4,624.2 1668.5,622.7 1668.6,621.2 1668.6,619.7 1668.7,618.2 1668.7,616.7 1668.8,615.2 1668.8,613.7 1668.9,612.2 1669.0,610.7 1669.0,609.2 1669.1,607.7 1669.1,606.2 1669.2,604.7 1669.2,603.2 1669.3,601.7 1669.3,600.2 1669.4,598.7 1669.4,597.2 1669.5,595.7 1669.5,594.2 1669.6,592.7 1669.6,591.2 1669.7,589.7 1669.7,588.2 1669.8,586.7 1669.8,585.2 1669.9,583.7 1669.9,582.2 1669.9,580.7 1670.0,579.2 1670.0,577.7 1670.1,576.2 1670.1,574.7 1670.2,573.2 1670.2,571.7 1670.2,570.2 1670.3,568.7 1670.3,567.2 1670.4,565.7 1670.4,564.2 1670.4,562.7 1670.5,561.2 1670.5,559.7 1670.6,558.2 1670.6,556.7 1670.7,555.2 1670.7,553.7 1670.8,552.2 1670.8,550.7 1670.9,549.2 1670.9,547.7 1671.0,546.2 1671.0,544.7 1671.1,543.2 1671.1,541.7 1671.2,540.2 1671.2,538.7 1671.3,537.2 1671.3,535.7 1671.4,534.2 1671.5,532.7 1671.5,531.2 1671.6,529.7 1671.6,528.2 1671.7,526.7 1671.8,525.2 1671.8,523.7 1671.9,522.2 1671.9,520.7 1672.0,519.2 1672.1,517.7 1672.2,516.2 1672.2,514.7 1672.3,513.2 1672.4,511.7 1672.4,510.2 1672.5,508.7 1672.6,507.2 1672.7,505.7 1672.8,504.2 1672.8,502.7 1672.9,501.3 1673.0,499.8 1673.1,498.3 1673.2,496.8 1673.3,495.2 1673.3,493.7 1673.4,492.2 1673.5,490.7 1673.6,489.2 1673.7,487.7 1673.8,486.2 1673.9,484.7 1674.1,483.2 1674.2,481.7 1674.3,480.2 1674.5,478.7 1674.7,477.3 1674.9,475.8 1675.1,474.3 1675.5,472.5 1676.1,470.6 1676.6,469.3 1677.0,468.8 1677.4,469.2 1677.9,470.3 1678.3,471.7 1678.6,473.5 1679.0,475.4 1679.2,477.4 1679.4,479.1 1679.5,480.7 1679.6,482.2 1679.7,483.6 1679.8,485.1 1679.9,486.6 1680.0,488.1 1680.0,489.6 1680.1,491.1 1680.2,492.6 1680.2,494.1 1680.3,495.6 1680.3,497.1 1680.4,498.6 1680.4,500.1 1680.4,501.6 1680.5,503.1 1680.5,504.6 1680.6,506.1 1680.6,507.6 1680.6,509.1 1680.7,510.6 1680.7,512.1 1680.7,513.6 1680.8,515.1 1680.8,516.6 1680.8,518.2 1680.9,519.7 1680.9,521.2 1680.9,522.7 1681.0,524.2 1681.0,525.7 1681.1,527.2 1681.1,528.7 1681.2,530.2 1681.2,531.7 1681.2,533.2 1681.3,534.7 1681.3,536.2 1681.4,537.7 1681.4,539.2 1681.4,540.7 1681.5,542.2 1681.5,543.7 1681.6,545.2 1681.6,546.7 1681.7,548.2 1681.7,549.7 1681.7,551.2 1681.8,552.7 1681.8,554.2 1681.9,555.7 1681.9,557.2 1681.9,558.7 1682.0,560.2 1682.0,561.7 1682.0,563.2 1682.1,564.7 1682.1,566.2 1682.2,567.7 1682.2,569.2 1682.2,570.7 1682.3,572.2 1682.3,573.7 1682.4,575.2 1682.4,576.7 1682.4,578.2 1682.5,579.7 1682.5,581.2 1682.5,582.7 1682.6,584.2 1682.6,585.7 1682.7,587.2 1682.7,588.7 1682.7,590.2 1682.8,591.7 1682.8,593.2 1682.9,594.7 1682.9,596.1 1682.9,597.6 1683.0,599.1 1683.0,600.6 1683.1,602.1 1683.1,603.6 1683.1,605.1 1683.2,606.6 1683.2,608.1 1683.3,609.6 1683.3,611.1 1683.3,612.6 1683.4,614.1 1683.4,615.6 1683.4,617.1 1683.5,618.6 1683.5,620.1 1683.6,621.6 1683.6,623.1 1683.6,624.6 1683.7,626.1 1683.7,627.6 1683.7,629.1 1683.8,630.6 1683.8,632.1 1683.8,633.6 1683.9,635.1 1683.9,636.6 1684.0,638.1 1684.0,639.6 1684.0,641.1 1684.1,642.6 1684.1,644.1 1684.2,645.6 1684.2,647.1 1684.2,648.6 1684.3,650.1 1684.3,651.6 1684.4,653.1 1684.4,654.6 1684.4,656.1 1684.5,657.6 1684.5,659.1 1684.6,660.6 1684.6,662.1 1684.6,663.6 1684.7,665.1 1684.7,666.6 1684.8,668.1 1684.8,669.6 1684.9,671.1 1684.9,672.6 1685.0,674.1 1685.0,675.6 1685.1,677.1 1685.1,678.6 1685.2,680.1 1685.2,681.6 1685.2,683.1 1685.3,684.7 1685.3,686.2 1685.4,687.7 1685.4,689.2 1685.4,690.7 1685.5,692.2 1685.5,693.7 1685.6,695.2 1685.6,696.7 1685.6,698.2 1685.7,699.7 1685.7,701.2 1685.8,702.7 1685.8,704.2 1685.9,705.7 1686.0,707.2 1686.0,708.7 1686.1,710.2 1686.2,711.7 1686.2,713.2 1686.3,714.7 1686.4,716.2 1686.5,717.7 1686.6,719.2 1686.7,720.7 1686.8,722.1 1686.9,723.6 1687.0,725.1 1687.2,726.8 1687.4,728.6 1687.8,730.6 1688.1,732.4 1688.5,734.1 1688.9,735.3 1689.3,735.9 1689.7,735.9 1690.1,735.2 1690.6,734.0 1691.1,732.3 1691.5,730.5 1691.9,728.6 1692.3,726.7 1692.5,725.1 1692.6,723.6 1692.8,722.1 1692.9,720.7 1693.0,719.2 1693.1,717.7 1693.2,716.2 1693.3,714.7 1693.4,713.2 1693.5,711.7 1693.6,710.2 1693.6,708.7 1693.7,707.2 1693.8,705.7 1693.8,704.2 1693.9,702.7 1693.9,701.2 1694.0,699.7 1694.0,698.2 1694.1,696.6 1694.2,695.1 1694.2,693.6 1694.3,692.1 1694.3,690.6 1694.4,689.1 1694.5,687.6 1694.6,686.1 1694.6,684.6 1694.7,683.1 1694.7,681.6 1694.8,680.1 1694.8,678.5 1694.9,677.0 1694.9,675.5 1695.0,674.0 1695.0,672.5 1695.1,670.9 1695.2,669.4 1695.2,667.9 1695.3,666.4 1695.4,664.9 1695.5,663.5 1695.6,662.0 1695.7,660.5 1695.8,659.1 1696.0,657.6 1696.3,656.0 1696.9,654.2 1697.6,652.5 1698.3,651.4 1698.9,651.0 1699.3,651.6 1699.7,652.8 1700.1,654.5 1700.4,656.4 1700.7,658.3 1701.0,660.0 1701.3,661.5 1701.5,663.0 1701.7,664.5 1701.9,666.0 1702.1,667.5 1702.3,669.0 1702.5,670.5 1702.7,672.0 1702.9,673.4 1703.2,674.9 1703.5,676.3 1703.9,677.8 1704.4,679.5 1705.0,681.2 1705.7,682.4 1706.4,682.4 1707.1,681.5 1707.8,680.1 1708.5,678.3 1709.1,676.5 1709.5,675.0 1709.8,673.5 1710.0,672.1 1710.2,670.7 1710.4,669.2 1710.6,667.7 1710.8,666.2 1710.9,664.7 1711.1,663.2 1711.2,661.7 1711.3,660.2 1711.4,658.7 1711.5,657.2 1711.6,655.7 1711.8,654.2 1711.9,652.6 1712.0,651.1 1712.1,649.6 1712.2,648.1 1712.3,646.6 1712.5,645.1 1712.6,643.6 1712.8,642.1 1712.9,640.6 1713.0,639.0 1713.1,637.5 1713.2,635.9 1713.3,634.4 1713.4,632.9 1713.5,631.3 1713.6,629.8 1713.8,628.3 1713.9,626.8 1714.1,625.4 1714.3,623.9 1714.5,622.5 1714.8,621.1 1715.1,619.7 1715.8,618.1 1716.7,616.6 1717.5,616.0 1718.1,616.4 1718.6,617.4 1719.1,618.9 1719.5,620.7 1720.0,622.6 1720.5,624.4 1721.0,626.0 1721.5,627.5 1722.1,629.3 1722.7,631.1 1723.3,632.7 1724.0,633.9 1724.8,634.5 1725.7,634.2 1726.9,633.2 1728.2,631.8 1729.5,630.5 1730.6,629.6 1731.3,629.6 1732.0,630.3 1732.6,631.5 1733.1,633.1 1733.5,634.9 1733.9,636.8 1734.3,638.6 1734.5,640.2 1734.8,641.7 1735.0,643.1 1735.2,644.6 1735.4,646.1 1735.5,647.6 1735.7,649.0 1735.8,650.5 1736.0,652.0 1736.1,653.5 1736.2,655.0 1736.3,656.5 1736.5,658.0 1736.6,659.6 1736.7,661.1 1736.8,662.6 1736.9,664.1 1737.1,665.6 1737.2,667.1 1737.3,668.6 1737.5,670.1 1737.7,671.6 1737.8,673.0 1738.0,674.5 1738.1,676.0 1738.3,677.5 1738.4,679.0 1738.6,680.5 1738.8,682.0 1738.9,683.5 1739.1,685.0 1739.3,686.5 1739.5,688.0 1739.7,689.5 1739.9,691.0 1740.1,692.4 1740.3,693.9 1740.6,695.4 1740.9,696.8 1741.2,698.3 1741.5,699.8 1741.9,701.2 1742.3,702.7 1742.7,704.1 1743.2,705.6 1743.6,707.0 1744.1,708.4 1744.7,709.8 1745.3,711.2 1746.0,712.6 1746.7,713.9 1747.3,715.3 1747.9,716.7 1748.4,718.1 1748.7,719.5 1748.9,721.0 1749.1,722.4 1749.3,723.9 1749.5,725.3 1749.7,726.8 1749.8,728.3 1749.9,729.8 1750.0,731.3 1750.2,732.8 1750.3,734.3 1750.4,735.9 1750.5,737.4 1750.6,738.9 1750.7,740.4 1750.8,741.9 1750.9,743.4 1751.0,744.9 1751.1,746.4 1751.2,747.9 1751.3,749.4 1751.4,750.9 1751.5,752.4 1751.6,753.9 1751.7,755.4 1751.8,756.9 1751.9,758.4 1752.0,759.9 1752.1,761.4 1752.1,762.9 1752.2,764.4 1752.3,765.9 1752.4,767.4 1752.5,768.9 1752.6,770.4 1752.7,771.9 1752.8,773.4 1752.9,774.9 1753.1,776.4 1753.2,777.9 1753.3,779.4 1753.5,780.8 1753.6,782.3 1753.8,783.8 1754.0,785.3 1754.2,786.8 1754.5,788.2 1754.8,789.7 1755.1,791.2 1755.4,792.7 1755.7,794.1 1755.9,795.6 1756.1,797.1 1756.2,798.6 1756.4,800.1 1756.5,801.6 1756.7,803.1 1756.8,804.6 1757.0,806.0 1757.1,807.5 1757.2,809.0 1757.4,810.5 1757.5,812.0 1757.6,813.5 1757.7,815.0 1757.8,816.5 1757.9,818.0 1758.0,819.5 1758.1,821.0 1758.2,822.5 1758.3,824.0 1758.5,825.5 1758.6,827.0 1758.7,828.5 1758.8,830.0 1758.9,831.5 1759.0,833.0 1759.1,834.5 1759.2,836.0 1759.3,837.5 1759.4,839.0 1759.5,840.5 1759.7,842.0 1759.8,843.5 1759.9,845.0 1760.0,846.5 1760.1,848.0 1760.2,849.5 1760.4,851.0 1760.5,852.5 1760.6,853.9 1760.7,855.4 1760.8,856.9 1760.9,858.4 1761.0,859.9 1761.1,861.4 1761.3,862.9 1761.4,864.4 1761.5,865.9 1761.6,867.4 1761.7,868.9 1761.8,870.4 1761.9,871.9 1762.1,873.4 1762.2,874.9 1762.3,876.4 1762.4,877.9 1762.5,879.4 1762.7,880.9 1762.8,882.4 1762.9,883.9 1763.0,885.4 1763.2,886.9 1763.3,888.3 1763.4,889.8 1763.5,891.3 1763.7,892.8 1763.8,894.3 1763.9,895.8 1764.1,897.3 1764.2,898.8 1764.3,900.3 1764.5,901.8 1764.6,903.3 1764.7,904.8 1764.9,906.3 1765.0,907.8 1765.2,909.3 1765.3,910.8 1765.4,912.3 1765.6,913.8 1765.7,915.2 1765.9,916.7 1766.0,918.2 1766.2,919.7 1766.3,921.2 1766.5,922.7 1766.6,924.2 1766.8,925.7 1767.0,927.2 1767.1,928.7 1767.3,930.2 1767.4,931.7 1767.6,933.2 1767.8,934.6 1767.9,936.1 1768.1,937.6 1768.3,939.1 1768.4,940.6 1768.6,942.1 1768.8,943.6 1769.0,945.1 1769.2,946.6 1769.4,948.1 1769.6,949.6 1769.8,951.0 1770.0,952.5 1770.2,954.0 1770.5,955.5 1770.7,957.0 1771.0,958.4 1771.2,959.9 1771.5,961.4 1771.8,962.9 1772.1,964.5 1772.4,966.0 1772.8,967.4 1773.2,968.9 1773.7,970.3 1774.1,971.6 1774.7,972.9 1775.4,974.4 1776.3,976.0 1777.4,977.4 1778.4,978.4 1779.5,978.8 1780.6,978.4 1781.8,977.5 1783.1,976.2 1784.0,974.8 1784.6,973.5 1785.0,972.2 1785.4,970.9 1785.7,969.5 1786.0,968.1 1786.3,966.6 1786.5,965.1 1786.7,963.6 1786.9,962.0 1787.1,960.4 1787.3,958.9 1787.4,957.3 1787.6,955.7 1787.8,954.2 1788.0,952.7 1788.2,951.2 1788.4,949.7 1788.5,948.2 1788.7,946.7 1788.9,945.3 1789.1,943.8 1789.3,942.3 1789.4,940.8 1789.6,939.3 1789.8,937.8 1789.9,936.3 1790.1,934.8 1790.2,933.3 1790.4,931.8 1790.5,930.3 1790.7,928.8 1790.8,927.4 1791.0,925.9 1791.1,924.4 1791.3,922.9 1791.4,921.4 1791.6,919.9 1791.7,918.4 1791.8,916.9 1792.0,915.4 1792.1,913.9 1792.2,912.4 1792.4,910.9 1792.5,909.4 1792.6,907.9 1792.7,906.4 1792.9,904.9 1793.0,903.4 1793.1,902.0 1793.2,900.5 1793.3,899.0 1793.5,897.5 1793.6,896.0 1793.7,894.5 1793.8,893.0 1793.9,891.5 1794.0,890.0 1794.1,888.5 1794.2,887.0 1794.4,885.5 1794.5,884.0 1794.6,882.5 1794.7,881.0 1794.8,879.5 1794.9,878.0 1795.0,876.5 1795.1,875.0 1795.2,873.5 1795.3,872.0 1795.4,870.5 1795.5,869.0 1795.6,867.5 1795.7,866.0 1795.8,864.5 1795.9,863.0 1796.0,861.5 1796.1,860.1 1796.2,858.6 1796.3,857.1 1796.4,855.6 1796.5,854.1 1796.6,852.6 1796.7,851.1 1796.8,849.6 1796.9,848.1 1797.0,846.6 1797.1,845.1 1797.2,843.6 1797.3,842.1 1797.4,840.6 1797.5,839.1 1797.6,837.6 1797.7,836.1 1797.7,834.6 1797.8,833.1 1797.9,831.6 1798.0,830.1 1798.1,828.6 1798.2,827.1 1798.3,825.6 1798.4,824.1 1798.5,822.6 1798.6,821.1 1798.7,819.6 1798.8,818.1 1798.9,816.6 1799.0,815.1 1799.1,813.6 1799.2,812.1 1799.3,810.6 1799.4,809.1 1799.5,807.6 1799.6,806.1 1799.7,804.6 1799.7,803.1 1799.8,801.7 1799.9,800.2 1800.0,798.7 1800.1,797.2 1800.2,795.7 1800.3,794.2 1800.4,792.7 1800.5,791.2 1800.6,789.7 1800.7,788.2 1800.8,786.7 1800.9,785.2 1801.0,783.7 1801.1,782.2 1801.3,780.7 1801.4,779.2 1801.5,777.7 1801.6,776.2 1801.8,774.7 1801.9,773.2 1802.1,771.7 1802.2,770.2 1802.4,768.7 1802.5,767.2 1802.7,765.7 1802.9,764.2 1803.1,762.6 1803.3,761.1 1803.5,759.6 1803.8,758.2 1804.0,756.7 1804.3,755.3 1804.7,753.8 1805.0,752.5 1805.6,750.9 1806.3,749.2 1807.2,747.6 1808.1,746.4 1808.8,746.0 1809.4,746.4 1810.0,747.5 1810.5,749.1 1811.0,750.9 1811.5,752.7 1811.9,754.5 1812.2,755.9 1812.5,757.4 1812.8,758.8 1813.1,760.3 1813.4,761.8 1813.6,763.3 1813.9,764.7 1814.1,766.2 1814.3,767.7 1814.5,769.2 1814.8,770.7 1815.0,772.2 1815.2,773.7 1815.4,775.2 1815.7,776.7 1815.9,778.1 1816.2,779.6 1816.4,781.1 1816.6,782.6 1816.9,784.1 1817.1,785.6 1817.3,787.0 1817.6,788.5 1817.8,790.0 1818.0,791.5 1818.3,793.0 1818.5,794.4 1818.8,795.9 1819.0,797.4 1819.3,798.9 1819.6,800.4 1819.9,801.8 1820.2,803.3 1820.4,804.8 1820.7,806.3 1821.0,807.9 1821.3,809.4 1821.7,810.9 1822.0,812.3 1822.5,813.7 1823.0,815.0 1823.7,816.3 1824.8,817.8 1825.9,819.1 1827.0,819.9 1827.9,819.9 1828.7,819.1 1829.6,817.8 1830.3,816.1 1830.9,814.4 1831.4,812.8 1831.8,811.4 1832.1,809.9 1832.4,808.5 1832.7,807.0 1833.0,805.6 1833.2,804.1 1833.4,802.6 1833.6,801.1 1833.8,799.6 1834.0,798.1 1834.2,796.6 1834.4,795.0 1834.5,793.5 1834.7,792.0 1834.9,790.5 1835.1,789.0 1835.3,787.6 1835.5,786.1 1835.7,784.6 1835.9,783.1 1836.1,781.6 1836.3,780.1 1836.5,778.6 1836.7,777.1 1836.8,775.7 1837.0,774.2 1837.2,772.7 1837.4,771.2 1837.5,769.7 1837.7,768.2 1837.9,766.7 1838.1,765.2 1838.2,763.7 1838.4,762.2 1838.6,760.8 1838.7,759.3 1838.9,757.8 1839.1,756.3 1839.2,754.8 1839.4,753.3 1839.6,751.8 1839.7,750.3 1839.9,748.8 1840.1,747.3 1840.2,745.8 1840.4,744.3 1840.5,742.9 1840.7,741.4 1840.9,739.9 1841.0,738.4 1841.2,736.9 1841.3,735.4 1841.5,733.9 1841.6,732.4 1841.8,730.9 1841.9,729.4 1842.1,727.9 1842.3,726.4 1842.4,725.0 1842.6,723.5 1842.8,722.0 1842.9,720.5 1843.1,719.0 1843.3,717.5 1843.5,716.0 1843.6,714.5 1843.8,713.0 1844.0,711.5 1844.1,710.0 1844.3,708.5 1844.5,707.0 1844.6,705.5 1844.8,704.0 1845.0,702.5 1845.2,701.1 1845.4,699.6 1845.6,698.1 1845.8,696.6 1846.1,695.1 1846.3,693.7 1846.6,692.2 1846.9,690.7 1847.2,689.2 1847.5,687.5 1847.9,685.6 1848.3,683.7 1848.8,682.0 1849.3,680.8 1849.8,680.1 1850.3,680.1 1850.8,680.7 1851.4,681.7 1851.9,683.0 1852.5,684.7 1853.1,686.5 1853.7,688.3 1854.2,690.2 1854.7,691.9 1855.1,693.4 1855.5,694.8 1855.9,696.3 1856.2,697.7 1856.6,699.2 1856.9,700.6 1857.2,702.1 1857.5,703.6 1857.8,705.1 1858.1,706.5 1858.4,708.0 1858.6,709.5 1858.9,711.0 1859.1,712.5 1859.3,714.0 1859.6,715.4 1859.8,716.9 1860.0,718.4 1860.2,719.9 1860.4,721.4 1860.6,722.9 1860.7,724.3 1860.9,725.8 1861.1,727.3 1861.2,728.8 1861.4,730.3 1861.6,731.8 1861.7,733.3 1861.9,734.8 1862.0,736.3 1862.2,737.8 1862.4,739.3 1862.5,740.8 1862.7,742.3 1862.9,743.7 1863.0,745.2 1863.2,746.7 1863.4,748.2 1863.6,749.7 1863.7,751.2 1863.9,752.7 1864.1,754.2 1864.3,755.7 1864.4,757.2 1864.6,758.6 1864.8,760.1 1865.0,761.6 1865.2,763.1 1865.3,764.6 1865.5,766.1 1865.7,767.6 1865.9,769.1 1866.1,770.6 1866.3,772.0 1866.5,773.5 1866.7,775.0 1866.9,776.5 1867.1,778.0 1867.3,779.5 1867.5,781.0 1867.7,782.5 1867.9,784.0 1868.1,785.4 1868.3,786.9 1868.5,788.4 1868.7,789.9 1868.9,791.4 1869.1,792.9 1869.3,794.4 1869.6,795.9 1869.8,797.3 1870.1,798.8 1870.4,800.3 1870.6,801.7 1870.9,803.2 1871.2,804.8 1871.5,806.5 1871.9,808.2 1872.2,809.8 1872.6,811.3 1873.2,812.6 1873.8,813.5 1874.7,814.2 1876.3,814.8 1877.7,815.0 1878.7,814.3 1879.6,812.9 1880.3,811.2 1880.9,809.7 1881.4,808.4 1881.8,806.9 1882.1,805.5 1882.4,804.0 1882.7,802.5 1883.0,801.0 1883.3,799.5 1883.6,798.0 1884.0,796.5 1884.4,795.1 1885.0,793.6 1885.7,791.9 1886.5,790.3 1887.3,789.2 1888.1,788.8 1889.0,789.4 1889.9,790.6 1890.7,792.2 1891.5,793.9 1892.1,795.3 1892.6,796.7 1892.9,798.2 1893.3,799.8 1893.6,801.3 1893.9,802.8 1894.3,804.3 1894.8,805.6 1895.6,806.8 1896.8,808.1 1897.9,808.8 1898.7,808.5 1899.4,807.5 1900.0,806.0 1900.6,804.2 1901.0,802.4 1901.4,800.6 1901.6,799.2 1901.8,797.7 1902.0,796.3 1902.2,794.8 1902.4,793.3 1902.5,791.8 1902.6,790.3 1902.7,788.8 1902.9,787.3 1903.0,785.8 1903.1,784.3 1903.2,782.8 1903.2,781.3 1903.3,779.8 1903.4,778.3 1903.5,776.8 1903.6,775.2 1903.7,773.7 1903.8,772.2 1903.9,770.7 1904.1,769.2 1904.2,767.7 1904.3,766.2 1904.4,764.7 1904.6,763.3 1904.7,761.8 1904.8,760.3 1905.0,758.8 1905.1,757.3 1905.2,755.8 1905.3,754.3 1905.5,752.8 1905.6,751.3 1905.7,749.8 1905.9,748.3 1906.0,746.8 1906.1,745.3 1906.2,743.8 1906.4,742.3 1906.5,740.8 1906.6,739.3 1906.8,737.8 1906.9,736.3 1907.0,734.9 1907.1,733.4 1907.3,731.9 1907.4,730.4 1907.6,728.9 1907.7,727.4 1907.8,725.9 1908.0,724.4 1908.1,722.9 1908.3,721.4 1908.4,719.9 1908.6,718.4 1908.7,716.9 1908.9,715.4 1909.0,713.9 1909.2,712.4 1909.3,710.9 1909.4,709.4 1909.6,708.0 1909.7,706.5 1909.8,705.0 1910.0,703.5 1910.1,702.0 1910.2,700.5 1910.3,699.0 1910.4,697.5 1910.5,696.0 1910.6,694.5 1910.7,693.0 1910.7,691.5 1910.8,690.0 1910.9,688.5 1910.9,687.0 1911.0,685.5 1911.0,684.0 1911.1,682.5 1911.1,681.0 1911.2,679.5 1911.2,678.0 1911.3,676.5 1911.3,675.0 1911.3,673.5 1911.4,672.0 1911.4,670.5 1911.4,669.0 1911.5,667.5 1911.5,666.0 1911.5,664.5 1911.6,663.0 1911.6,661.5 1911.6,660.0 1911.7,658.5 1911.7,657.0 1911.7,655.5 1911.8,654.0 1911.8,652.5 1911.8,651.0 1911.8,649.5 1911.9,648.0 1911.9,646.5 1911.9,645.0 1912.0,643.5 1912.0,642.0 1912.0,640.5 1912.1,639.0 1912.1,637.5 1912.2,636.0 1912.2,634.5 1912.2,633.0 1912.3,631.5 1912.3,630.0 1912.4,628.5 1912.4,627.0 1912.5,625.5 1912.5,624.0 1912.6,622.5 1912.7,621.0 1912.7,619.5 1912.8,618.0 1912.8,616.5 1912.9,615.0 1913.0,613.5 1913.1,612.0 1913.1,610.5 1913.2,609.0 1913.3,607.5 1913.4,606.0 1913.4,604.5 1913.5,603.0 1913.6,601.5 1913.7,600.0 1913.8,598.5 1913.9,597.0 1914.0,595.5 1914.1,594.0 1914.2,592.5 1914.3,591.0 1914.4,589.5 1914.5,588.0 1914.6,586.6 1914.7,585.1 1914.8,583.6 1914.9,582.1 1915.0,580.6 1915.2,579.1 1915.3,577.6 1915.4,576.1 1915.5,574.6 1915.7,573.1 1915.8,571.6 1915.9,570.1 1916.1,568.6 1916.2,567.1 1916.4,565.6 1916.6,564.1 1916.8,562.6 1916.9,561.1 1917.1,559.6 1917.4,558.1 1917.6,556.6 1917.8,555.2 1918.1,553.7 1918.4,552.2 1918.6,550.8 1919.0,549.3 1919.4,547.6 1919.9,545.7 1920.4,543.9 1921.0,542.2 1921.6,540.9 1922.2,540.2 1922.7,540.1 1923.2,540.9 1923.6,542.3 1924.1,544.1 1924.6,546.0 1925.0,547.6 1925.5,549.2 1926.1,551.0 1926.6,552.9 1927.1,554.6 1927.7,556.1 1928.2,557.1 1928.8,557.5 1929.3,557.1 1929.9,556.0 1930.4,554.5 1931.0,552.7 1931.6,550.9 1932.2,549.3 1933.1,547.9 1934.1,546.3 1935.1,545.2 1935.7,545.1 1936.2,545.8 1936.7,547.0 1937.1,548.7 1937.4,550.6 1937.7,552.5 1937.9,554.3 1938.1,555.8 1938.2,557.3 1938.4,558.8 1938.5,560.3 1938.6,561.7 1938.8,563.2 1938.9,564.7 1939.0,566.2 1939.0,567.7 1939.1,569.2 1939.2,570.7 1939.3,572.2 1939.4,573.7 1939.4,575.2 1939.5,576.7 1939.6,578.2 1939.6,579.7 1939.7,581.2 1939.8,582.7 1939.8,584.3 1939.9,585.8 1940.0,587.3 1940.1,588.8 1940.2,590.3 1940.3,591.8 1940.4,593.3 1940.5,594.8 1940.6,596.3 1940.7,597.7 1940.9,599.2 1941.0,600.7 1941.1,602.2 1941.3,603.7 1941.4,605.2 1941.5,606.7 1941.7,608.2 1941.9,609.7 1942.0,611.2 1942.2,612.7 1942.4,614.2 1942.5,615.7 1942.7,617.2 1942.9,618.7 1943.1,620.1 1943.3,621.6 1943.5,623.1 1943.7,624.6 1944.0,626.1 1944.2,627.9 1944.5,629.8 1944.8,631.7 1945.1,633.7 1945.4,635.5 1945.8,637.1 1946.1,638.4 1946.5,639.4 1946.8,639.9 1947.2,639.9 1947.6,639.2 1948.1,637.9 1948.6,636.2 1949.1,634.4 1949.5,632.5 1949.9,630.7 1950.1,629.2 1950.4,627.8 1950.6,626.3 1950.8,624.8 1951.0,623.3 1951.2,621.8 1951.4,620.4 1951.6,618.9 1951.8,617.4 1951.9,615.9 1952.1,614.4 1952.2,612.9 1952.4,611.4 1952.5,609.9 1952.6,608.4 1952.8,606.9 1952.9,605.4 1953.0,603.9 1953.1,602.4 1953.3,600.9 1953.4,599.4 1953.5,597.9 1953.7,596.4 1953.8,594.9 1953.9,593.4 1954.1,591.9 1954.2,590.4 1954.4,588.9 1954.5,587.4 1954.6,585.9 1954.8,584.4 1954.9,582.9 1955.0,581.4 1955.1,580.0 1955.3,578.5 1955.4,577.0 1955.5,575.5 1955.6,574.0 1955.8,572.5 1955.9,571.0 1956.0,569.5 1956.1,568.0 1956.2,566.5 1956.3,565.0 1956.5,563.5 1956.6,562.0 1956.7,560.5 1956.8,559.0 1956.9,557.5 1957.0,556.0 1957.2,554.5 1957.3,553.0 1957.4,551.5 1957.5,550.0 1957.6,548.5 1957.7,547.0 1957.8,545.5 1957.9,544.1 1958.0,542.6 1958.2,541.1 1958.3,539.6 1958.4,538.1 1958.5,536.6 1958.6,535.1 1958.7,533.6 1958.8,532.1 1958.9,530.6 1959.0,529.1 1959.1,527.6 1959.2,526.1 1959.3,524.6 1959.4,523.1 1959.5,521.6 1959.6,520.1 1959.7,518.6 1959.8,517.1 1959.9,515.6 1960.0,514.1 1960.1,512.6 1960.2,511.1 1960.3,509.6 1960.4,508.1 1960.5,506.6 1960.6,505.1 1960.7,503.6 1960.8,502.1 1961.0,500.7 1961.1,499.2 1961.2,497.7 1961.3,496.2 1961.4,494.7 1961.5,493.2 1961.5,491.7 1961.6,490.2 1961.7,488.7 1961.8,487.2 1961.9,485.7 1962.0,484.1 1962.1,482.6 1962.2,481.1 1962.3,479.6 1962.4,478.1 1962.5,476.7 1962.6,475.2 1962.7,473.7 1962.8,472.2 1963.0,470.7 1963.1,469.2 1963.2,467.7 1963.4,466.2 1963.5,464.7 1963.7,463.2 1963.9,461.8 1964.1,460.2 1964.3,458.7 1964.5,457.1 1964.8,455.6 1965.0,454.0 1965.4,452.5 1965.7,451.1 1966.2,449.7 1966.6,448.4 1967.2,447.1 1968.3,445.8 1969.4,445.0 1970.1,445.3 1970.7,446.3 1971.3,447.7 1971.8,449.4 1972.2,451.3 1972.6,453.1 1973.0,454.8 1973.3,456.2 1973.5,457.7 1973.7,459.2 1973.9,460.7 1974.1,462.2 1974.3,463.8 1974.4,465.3 1974.6,466.8 1974.7,468.4 1974.9,469.9 1975.1,471.4 1975.3,472.9 1975.5,474.3 1975.7,475.8 1976.0,477.2 1976.4,478.6 1976.9,480.1 1977.6,481.7 1978.5,483.2 1979.4,484.0 1980.0,483.7 1980.6,482.8 1981.2,481.3 1981.7,479.6 1982.3,477.7 1982.7,476.0 1983.2,474.5 1983.5,473.0 1983.9,471.5 1984.2,470.0 1984.4,468.5 1984.7,467.0 1985.0,465.5 1985.2,464.0 1985.5,462.5 1985.9,461.0 1986.3,459.6 1986.7,458.3 1987.2,457.0 1988.1,455.8 1989.1,454.6 1990.2,453.5 1991.3,452.4 1992.3,451.2 1993.0,450.0 1993.5,448.7 1993.9,447.3 1994.4,445.9 1994.7,444.4 1995.1,442.9 1995.4,441.4 1995.7,439.9 1995.9,438.4 1996.2,436.9 1996.4,435.4 1996.7,433.9 1996.9,432.4 1997.1,431.0 1997.3,429.5 1997.5,428.0 1997.7,426.5 1997.9,425.0 1998.0,423.5 1998.2,422.0 1998.4,420.5 1998.5,419.0 1998.7,417.5 1998.8,416.0 1999.0,414.6 1999.2,413.1 1999.3,411.6 1999.5,410.1 1999.7,408.6 1999.8,407.1 2000.0,405.6 2000.1,404.1 2000.3,402.6 2000.4,401.1 2000.6,399.6 2000.7,398.1 2000.9,396.6 2001.0,395.1 2001.2,393.6 2001.3,392.1 2001.5,390.6 2001.7,389.1 2001.9,387.6 2002.0,386.2 2002.3,384.7 2002.5,383.2 2002.7,381.7 2003.0,380.3 2003.2,378.8 2003.5,377.3 2003.9,375.8 2004.2,374.3 2004.7,372.8 2005.2,371.4 2005.7,370.1 2006.5,368.8 2007.6,367.3 2008.7,366.3 2009.8,366.0 2010.9,366.8 2011.9,368.2 2012.8,369.6 2013.4,370.9 2014.0,372.3 2014.4,373.7 2014.8,375.2 2015.2,376.6 2015.6,378.1 2016.0,379.6 2016.5,381.1 2017.0,382.5 2017.6,383.9 2018.2,385.5 2019.0,387.0 2019.8,388.2 2020.8,389.0 2022.0,389.4 2023.5,389.6 2025.1,389.9 2026.6,390.2 2028.3,390.5 2029.9,390.8 2031.3,391.0 2032.4,390.9 2033.2,390.3 2034.0,389.1 2034.6,387.5 2035.3,385.8 2036.0,384.2 2036.8,382.7 2037.8,381.5 2039.1,380.2 2040.2,379.2 2041.1,379.1 2041.7,380.0 2042.3,381.6 2042.8,383.5 2043.0,385.1 2043.1,386.6 2043.2,388.0 2043.3,389.5 2043.4,391.0 2043.5,392.4 2043.6,393.9 2043.6,395.4 2043.7,396.9 2043.7,398.4 2043.8,399.9 2043.8,401.4 2043.9,402.9 2043.9,404.4 2043.9,405.9 2044.0,407.4 2044.0,408.9 2044.0,410.4 2044.1,412.0 2044.1,413.5 2044.1,415.0 2044.2,416.5 2044.2,418.0 2044.2,419.6 2044.2,421.1 2044.3,422.6 2044.3,424.1 2044.4,425.6 2044.4,427.1 2044.5,428.6 2044.5,430.1 2044.6,431.6 2044.6,433.1 2044.7,434.6 2044.7,436.1 2044.8,437.6 2044.8,439.1 2044.9,440.6 2044.9,442.1 2045.0,443.6 2045.0,445.1 2045.1,446.6 2045.1,448.1 2045.2,449.6 2045.2,451.1 2045.3,452.6 2045.4,454.1 2045.4,455.6 2045.5,457.1 2045.5,458.6 2045.6,460.1 2045.6,461.6 2045.7,463.1 2045.8,464.6 2045.8,466.1 2045.9,467.6 2046.0,469.1 2046.0,470.6 2046.1,472.1 2046.2,473.6 2046.2,475.1 2046.3,476.6 2046.4,478.1 2046.5,479.6 2046.6,481.1 2046.6,482.9 2046.7,484.7 2046.8,486.7 2046.8,488.7 2046.9,490.7 2047.0,492.6 2047.1,494.4 2047.2,496.0 2047.3,497.4 2047.5,498.6 2047.6,499.4 2047.8,499.9 2048.2,499.9 2049.6,499.3 2051.3,498.3 2052.0,497.3 2052.2,496.3 2052.4,495.2 2052.6,494.0 2052.7,492.8 2052.9,491.5 2053.0,490.2 2053.1,488.8 2053.1,487.4 2053.2,485.9 2053.3,484.4 2053.3,482.9 2053.4,481.3 2053.4,479.7 2053.5,478.1 2053.5,476.4 2053.6,474.8 2053.6,473.1 2053.6,471.4 2053.7,469.7 2053.7,468.1 2053.8,466.4 2053.9,464.7 2053.9,463.1 2054.0,461.5 2054.1,459.9 2054.2,458.3 2054.3,456.8 2054.5,455.2 2054.6,453.7 2054.9,451.9 2055.1,450.0 2055.4,448.0 2055.7,446.1 2056.0,444.3 2056.4,442.7 2056.7,441.4 2057.1,440.5 2057.4,440.0 2057.7,440.1 2058.0,440.7 2058.4,441.7 2058.8,443.1 2059.2,444.7 2059.5,446.6 2059.9,448.5 2060.2,450.5 2060.5,452.3 2060.7,454.1 2060.9,455.6 2061.0,457.1 2061.1,458.6 2061.2,460.0 2061.4,461.5 2061.5,463.0 2061.5,464.5 2061.6,466.0 2061.7,467.5 2061.8,469.0 2061.9,470.5 2061.9,472.0 2062.0,473.5 2062.0,475.0 2062.1,476.5 2062.2,478.0 2062.2,479.5 2062.3,481.0 2062.4,482.5 2062.5,484.1 2062.5,485.6 2062.6,487.1 2062.7,488.6 2062.8,490.1 2062.9,491.5 2063.0,493.1 2063.2,494.7 2063.3,496.5 2063.5,498.4 2063.7,500.3 2063.8,502.3 2064.0,504.3 2064.2,506.2 2064.4,508.1 2064.6,509.8 2064.8,511.4 2065.0,512.8 2065.2,514.0 2065.4,515.0 2065.6,515.6 2065.7,516.0 2065.9,515.9 2066.0,515.5 2066.2,514.8 2066.3,513.8 2066.5,512.6 2066.6,511.1 2066.8,509.5 2066.9,507.7 2067.1,505.8 2067.2,503.9 2067.3,501.9 2067.5,499.9 2067.6,498.0 2067.7,496.1 2067.9,494.3 2068.0,492.7 2068.1,491.2 2068.2,489.7 2068.4,488.2 2068.5,486.7 2068.6,485.2 2068.7,483.7 2068.8,482.3 2069.0,480.8 2069.1,479.3 2069.2,477.8 2069.3,476.3 2069.4,474.8 2069.5,473.3 2069.6,471.8 2069.7,470.3 2069.8,468.8 2070.0,467.3 2070.1,465.8 2070.2,464.3 2070.3,462.8 2070.4,461.3 2070.5,459.8 2070.6,458.3 2070.7,456.8 2070.8,455.3 2070.9,453.8 2071.0,452.3 2071.1,450.8 2071.2,449.3 2071.2,447.8 2071.3,446.3 2071.4,444.8 2071.5,443.3 2071.6,441.8 2071.7,440.3 2071.8,438.8 2071.8,437.3 2071.9,435.8 2072.0,434.3 2072.1,432.9 2072.2,431.4 2072.3,429.9 2072.3,428.4 2072.4,426.9 2072.5,425.4 2072.6,423.9 2072.7,422.4 2072.8,420.9 2072.9,419.4 2073.0,417.9 2073.1,416.4 2073.2,414.9 2073.3,413.4 2073.4,411.9 2073.5,410.4 2073.6,408.9 2073.7,407.4 2073.8,405.9 2073.9,404.4 2074.0,402.9 2074.2,401.4 2074.3,399.9 2074.4,398.4 2074.5,396.9 2074.6,395.4 2074.7,393.9 2074.9,392.4 2075.0,390.9 2075.1,389.4 2075.2,388.0 2075.3,386.5 2075.4,385.0 2075.5,383.5 2075.7,382.0 2075.8,380.5 2075.9,379.0 2076.0,377.5 2076.1,376.0 2076.2,374.5 2076.3,373.0 2076.4,371.5 2076.5,370.0 2076.6,368.5 2076.7,367.0 2076.8,365.5 2076.9,364.0 2077.0,362.5 2077.1,361.0 2077.2,359.5 2077.3,358.0 2077.4,356.5 2077.5,355.0 2077.7,353.5 2077.8,352.0 2077.9,350.5 2078.1,349.1 2078.2,347.6 2078.4,346.1 2078.6,344.5 2078.7,343.0 2078.9,341.5 2079.1,340.1 2079.3,338.6 2079.6,337.1 2079.9,335.7 2080.2,334.2 2080.6,332.4 2081.1,330.5 2081.6,328.9 2082.3,327.8 2083.2,327.5 2084.5,327.6 2086.2,327.9 2087.6,328.2 2088.9,329.2 2090.1,330.5 2091.2,331.8 2092.3,332.8 2093.3,333.0 2094.1,332.5 2094.9,331.4 2095.7,330.0 2096.4,328.4 2097.1,326.7 2097.9,325.1 2098.8,323.7 2099.9,322.7 2101.1,321.7 2102.5,321.1 2103.9,321.1 2105.2,321.8 2106.6,322.6 2108.0,323.4 2109.4,323.8 2110.8,323.6 2112.3,323.0 2113.8,322.2 2115.2,321.5 2116.5,321.0 2117.6,321.1 2118.7,321.9 2119.6,323.2 2120.5,324.7 2121.4,326.2 2122.1,327.6 2122.7,329.1 2123.2,330.8 2123.6,332.7 2124.0,334.5 2124.4,336.3 2124.9,338.0 2125.4,339.4 2125.9,340.4 2126.6,340.9 2127.6,340.9 2129.3,340.6 2131.0,340.2 2132.1,340.0 2132.6,340.3 2133.0,340.9 2133.3,341.9 2133.6,343.1 2133.9,344.6 2134.1,346.3 2134.3,348.1 2134.5,350.1 2134.7,352.0 2134.9,354.0 2135.1,355.9 2135.4,357.7 2135.7,359.3 2136.0,360.8 2136.3,362.3 2136.7,363.7 2137.0,365.2 2137.4,366.7 2137.7,368.1 2138.1,369.6 2138.6,371.0 2139.0,372.4 2139.5,373.8 2140.1,375.4 2140.9,377.2 2141.6,378.8 2142.2,379.8 2142.6,379.9 2142.9,379.3 2143.1,378.1 2143.3,376.5 2143.5,374.6 2143.6,372.7 2143.9,370.7 2144.1,368.9 2144.5,367.5 2145.3,366.1 2146.4,364.8 2147.6,363.9 2148.5,364.0 2149.2,365.0 2149.7,366.6 2150.3,368.5 2150.9,370.5 2151.5,372.3 2152.2,373.4 2153.2,373.8 2154.5,373.8 2156.2,373.8 2157.7,373.8 2159.1,373.5 2160.3,372.5 2161.5,371.2 2162.6,369.9 2163.8,369.0 2164.9,368.9 2166.0,369.5 2167.1,370.6 2168.2,372.0 2169.2,373.4 2170.1,374.5 2170.9,375.8 2171.7,377.1 2172.4,378.4 2173.2,379.7 2173.9,381.0 2174.7,382.3 2175.6,383.5 2176.5,384.6 2177.6,385.7 2178.7,386.7 2179.9,387.7 2181.0,388.8 2181.9,389.9 2182.7,391.2 2183.5,392.9 2184.1,394.6 2184.8,396.3 2185.5,397.6 2186.3,398.5 2187.2,398.8 2188.4,398.2 2189.8,397.1 2190.8,396.0 2191.5,394.8 2192.1,393.6 2192.6,392.2 2193.1,390.7 2193.5,389.2 2193.9,387.6 2194.4,386.1 2194.9,384.6 2195.4,383.2 2196.1,382.0 2196.9,380.7 2197.8,379.6 2198.8,378.4 2199.8,377.3 2200.9,376.2 2201.9,375.1 2203.0,373.9 2204.0,372.5 2205.0,371.2 2206.1,369.9 2207.2,368.9 2208.4,368.2 2209.6,368.0 2211.1,368.0 2212.7,368.0 2214.4,368.0 2215.9,368.0 2217.1,368.0 2218.1,367.7 2219.0,366.9 2219.9,365.8 2220.7,364.4 2221.4,362.8 2222.1,361.2 2222.8,359.5 2223.6,357.9 2224.4,356.5 2225.2,355.2 2226.0,354.0 2226.8,352.7 2227.6,351.5 2228.5,350.2 2229.3,349.0 2230.2,347.7 2231.0,346.5 2231.9,345.3 2232.7,344.1 2233.6,342.8 2234.5,341.6 2235.4,340.4 2236.3,339.2 2237.2,338.0 2238.1,336.9 2239.1,335.7 2240.0,334.5"/>
</g>
<g id="curve-after" clip-path="url(#plotclip)">
<polyline fill="none" stroke="#0000ff" stroke-width="8.33" stroke-linejoin="round" stroke-linecap="butt" points="130.0,740.0 131.5,740.1 133.0,740.2 134.5,740.3 136.0,740.4 137.5,740.5 139.0,740.6 140.5,740.7 142.0,740.8 143.5,740.8 145.0,740.9 146.5,741.0 148.0,741.0 149.5,741.1 151.0,741.2 152.5,741.2 154.0,741.2 155.5,741.3 157.0,741.3 158.5,741.3 160.0,741.3 161.5,741.3 163.0,741.3 164.5,741.3 166.0,741.3 167.5,741.3 169.0,741.3 170.5,741.3 172.0,741.3 173.5,741.3 175.0,741.3 176.4,741.2 177.9,740.8 179.3,740.3 180.8,739.8 182.2,739.3 183.7,738.9 185.2,738.8 186.7,738.8 188.1,738.8 189.6,738.8 191.1,738.8 192.7,738.8 194.2,738.8 195.7,738.8 197.2,738.8 198.7,738.8 200.2,738.8 201.7,738.7 203.1,738.5 204.6,738.2 206.1,737.8 207.6,737.5 209.1,737.2 210.5,736.9 212.0,736.8 213.5,736.8 215.0,737.0 216.5,737.3 217.9,737.6 219.4,738.0 220.9,738.3 222.4,738.6 223.9,738.8 225.4,738.8 226.9,738.8 228.4,738.8 229.9,738.8 231.4,738.8 232.9,738.8 234.4,738.8 235.9,738.8 237.4,738.8 239.0,738.8 240.4,738.8 241.9,738.8 243.4,738.8 244.9,738.8 246.3,739.0 247.7,739.5 249.1,740.2 250.5,741.0 251.9,741.6 253.3,742.0 254.8,742.0 256.2,741.9 257.7,741.8 259.3,741.6 260.8,741.4 262.3,741.1 263.8,740.8 265.3,740.5 266.7,740.2 268.1,739.8 269.5,739.2 270.8,738.4 272.1,737.5 273.4,736.6 274.8,735.8 276.1,735.2 277.5,735.0 278.9,735.1 280.3,735.4 281.8,735.8 283.2,736.3 284.7,736.9 286.2,737.3 287.7,737.7 289.1,738.0 290.6,738.0 292.1,737.8 293.6,737.6 295.0,737.3 296.5,736.9 298.0,736.6 299.5,736.4 301.0,736.2 302.5,736.1 304.0,735.9 305.6,735.8 307.1,735.6 308.6,735.5 310.2,735.4 311.7,735.3 313.2,735.2 314.7,735.1 316.2,735.1 317.6,735.0 319.0,735.0 320.4,735.0 321.7,735.6 322.9,736.6 324.1,737.9 325.3,739.0 326.6,739.8 327.9,740.0 329.3,739.7 330.8,739.2 332.3,738.6 333.7,738.2 335.1,738.0 336.5,738.4 337.7,739.3 339.0,740.5 340.2,741.6 341.5,742.3 342.9,742.5 344.3,742.3 345.8,742.1 347.3,741.7 348.8,741.3 350.3,741.0 351.8,740.8 353.3,740.8 354.7,740.9 356.2,741.2 357.7,741.4 359.2,741.7 360.7,742.0 362.2,742.3 363.7,742.4 365.2,742.5 366.7,742.5 368.2,742.5 369.7,742.4 371.2,742.4 372.7,742.3 374.2,742.2 375.7,742.2 377.2,742.1 378.7,742.0 380.2,742.0 381.7,741.9 383.2,741.9 384.7,741.8 386.2,741.8 387.7,741.8 389.1,741.9 390.6,742.1 392.1,742.4 393.5,742.7 395.0,743.1 396.5,743.5 397.9,744.0 399.4,744.4 400.8,744.8 402.3,745.1 403.8,745.4 405.3,745.5 406.8,745.6 408.3,745.7 409.8,745.8 411.3,745.9 412.8,746.0 414.3,746.1 415.8,746.2 417.4,746.3 418.9,746.3 420.4,746.4 421.9,746.4 423.4,746.5 424.8,746.5 426.3,746.5 427.7,746.5 429.2,746.2 430.6,745.7 432.0,745.0 433.4,744.2 434.8,743.3 436.1,742.7 437.5,742.2 438.9,742.0 440.3,742.3 441.8,743.0 443.1,743.9 444.1,744.8 444.9,745.8 445.7,747.0 446.3,748.3 447.0,749.7 447.5,751.2 448.1,752.7 448.7,754.2 449.2,755.7 449.8,757.1 450.5,758.5 451.1,759.9 451.7,761.2 452.3,762.6 452.9,764.0 453.5,765.4 454.1,766.8 454.7,768.2 455.3,769.5 456.0,770.9 456.6,772.2 457.3,773.5 458.1,774.8 458.9,776.0 459.7,777.3 460.6,778.5 461.5,779.7 462.5,780.9 463.4,782.1 464.3,783.3 465.3,784.5 466.2,785.7 467.0,787.0 467.8,788.2 468.5,789.5 469.2,790.8 469.8,792.1 470.4,793.5 471.0,794.8 471.6,796.2 472.1,797.6 472.6,799.0 473.1,800.5 473.6,801.9 474.1,803.3 474.6,804.8 475.1,806.2 475.6,807.6 476.1,809.0 476.7,810.4 477.2,811.8 477.8,813.2 478.4,814.6 478.9,816.0 479.5,817.4 480.1,818.8 480.7,820.2 481.2,821.6 481.8,823.0 482.4,824.4 483.0,825.7 483.6,827.1 484.2,828.5 484.9,829.8 485.5,831.2 486.2,832.5 486.9,833.8 487.6,835.1 488.3,836.4 489.0,837.8 489.8,839.1 490.6,840.4 491.4,841.7 492.2,842.9 493.0,844.2 493.9,845.4 494.8,846.7 495.7,847.8 496.6,849.0 497.6,850.1 498.6,851.2 499.6,852.4 500.7,853.6 501.8,854.8 502.9,855.9 504.1,856.9 505.3,857.7 506.5,858.4 507.8,858.9 509.1,859.3 510.6,859.6 512.1,859.9 513.6,860.2 515.2,860.4 516.7,860.5 518.2,860.5 519.7,860.4 521.2,860.3 522.7,860.2 524.3,860.0 525.8,859.8 527.2,859.5 528.7,859.3 530.1,859.0 531.4,858.6 532.8,858.1 534.1,857.4 535.4,856.6 536.7,855.7 538.0,854.8 539.2,853.8 540.4,852.8 541.6,851.8 542.7,850.8 543.8,849.9 544.8,848.8 545.8,847.7 546.8,846.6 547.8,845.5 548.7,844.3 549.6,843.1 550.6,841.9 551.5,840.6 552.4,839.4 553.3,838.2 554.2,837.0 555.1,835.8 556.1,834.6 557.0,833.5 557.9,832.3 558.8,831.1 559.7,829.9 560.6,828.7 561.5,827.5 562.4,826.2 563.3,825.0 564.2,823.8 565.0,822.6 565.9,821.4 566.8,820.2 567.7,819.0 568.6,817.8 569.5,816.6 570.4,815.4 571.4,814.2 572.3,813.0 573.2,811.9 574.1,810.7 575.0,809.5 575.9,808.3 576.9,807.1 577.8,805.9 578.7,804.7 579.6,803.6 580.6,802.4 581.5,801.2 582.4,800.0 583.4,798.9 584.3,797.7 585.3,796.5 586.2,795.4 587.2,794.2 588.1,793.1 589.1,791.9 590.0,790.7 591.0,789.6 591.9,788.4 592.9,787.3 593.9,786.1 594.8,784.9 595.8,783.8 596.8,782.7 597.8,781.5 598.8,780.4 599.8,779.3 600.8,778.2 601.8,777.1 602.8,776.0 603.9,774.9 604.9,773.9 606.0,772.8 607.1,771.8 608.1,770.7 609.2,769.6 610.3,768.5 611.4,767.5 612.6,766.4 613.7,765.4 614.9,764.4 616.1,763.5 617.3,762.7 618.5,761.9 619.7,761.1 621.0,760.5 622.3,759.9 623.7,759.3 625.1,758.7 626.5,758.2 627.9,757.7 629.4,757.2 630.8,756.7 632.3,756.3 633.8,755.9 635.2,755.4 636.6,755.0 638.1,754.6 639.5,754.1 641.0,753.7 642.5,753.2 643.9,752.8 645.4,752.5 646.9,752.2 648.3,752.1 649.8,752.0 651.3,752.1 652.7,752.4 654.2,752.9 655.6,753.5 657.0,754.1 658.5,754.6 659.9,755.1 661.4,755.4 662.8,755.5 664.2,755.3 665.7,754.8 667.1,754.2 668.6,753.5 670.0,753.0 671.4,752.6 672.9,752.5 674.3,752.7 675.6,753.1 677.0,753.6 678.4,754.3 679.7,755.0 681.1,755.8 682.5,756.6 683.9,757.3 685.2,758.0 686.7,758.5 688.1,758.9 689.6,759.2 691.1,759.5 692.6,759.7 694.1,760.0 695.5,760.3 696.8,760.9 698.0,761.9 699.1,763.1 700.2,764.5 701.3,765.7 702.4,766.6 703.6,767.0 704.9,766.8 706.4,766.3 707.8,765.5 709.3,764.6 710.8,763.7 712.1,763.0 713.3,762.5 714.3,762.6 715.3,763.2 716.2,764.2 717.1,765.6 717.9,767.2 718.6,768.9 719.3,770.6 719.9,772.1 720.3,773.5 720.8,774.9 721.2,776.3 721.6,777.7 721.9,779.1 722.3,780.6 722.6,782.1 722.9,783.6 723.2,785.1 723.5,786.6 723.8,788.1 724.0,789.6 724.3,791.1 724.6,792.5 724.8,794.0 725.1,795.5 725.4,797.0 725.6,798.5 725.9,799.9 726.1,801.4 726.4,802.9 726.6,804.4 726.8,805.9 727.0,807.3 727.3,808.8 727.5,810.3 727.7,811.8 727.9,813.3 728.1,814.8 728.3,816.3 728.6,817.7 728.8,819.2 729.0,820.7 729.2,822.2 729.4,823.7 729.6,825.2 729.9,826.6 730.1,828.1 730.3,829.6 730.5,831.1 730.8,832.6 731.0,834.1 731.2,835.6 731.4,837.0 731.6,838.5 731.9,840.0 732.1,841.5 732.3,843.0 732.5,844.5 732.7,845.9 733.0,847.4 733.2,848.9 733.4,850.4 733.7,851.9 733.9,853.4 734.1,854.8 734.4,856.3 734.6,857.8 734.9,859.3 735.1,860.7 735.4,862.2 735.6,863.7 735.9,865.2 736.1,866.7 736.4,868.2 736.6,869.7 736.9,871.2 737.1,872.7 737.4,874.2 737.7,875.7 738.0,877.1 738.3,878.6 738.7,880.0 739.0,881.5 739.4,882.9 739.8,884.3 740.2,885.7 740.7,887.2 741.3,888.8 741.9,890.3 742.6,891.8 743.3,893.1 744.2,894.2 745.1,895.0 746.3,895.6 747.9,896.0 749.6,896.4 751.2,896.8 752.3,897.4 753.0,898.1 753.6,899.1 754.2,900.2 754.6,901.6 755.1,903.0 755.5,904.6 755.8,906.2 756.2,907.9 756.5,909.6 756.8,911.3 757.1,912.9 757.4,914.5 757.7,916.0 758.0,917.4 758.3,918.9 758.5,920.4 758.8,921.8 759.0,923.3 759.3,924.8 759.5,926.3 759.7,927.8 759.9,929.3 760.1,930.7 760.3,932.2 760.5,933.7 760.8,935.2 761.0,936.7 761.2,938.2 761.4,939.7 761.6,941.2 761.8,942.7 762.0,944.1 762.2,945.6 762.4,947.1 762.7,948.6 762.9,950.1 763.1,951.6 763.3,953.1 763.5,954.6 763.7,956.1 763.9,957.6 764.1,959.1 764.3,960.6 764.5,962.0 764.7,963.5 765.0,965.0 765.2,966.5 765.5,967.9 765.9,969.4 766.2,970.9 766.6,972.6 767.0,974.4 767.5,976.2 768.1,977.8 768.7,979.1 769.5,979.9 770.4,980.0 771.9,980.0 773.6,980.0 775.1,980.0 776.1,979.6 777.0,978.6 777.9,977.2 778.7,975.6 779.4,973.9 780.0,972.5 780.6,971.1 781.1,969.8 781.7,968.4 782.1,967.0 782.6,965.6 783.0,964.1 783.5,962.7 783.9,961.2 784.2,959.8 784.6,958.3 785.0,956.8 785.4,955.3 785.8,953.9 786.1,952.4 786.5,950.9 786.9,949.5 787.3,948.0 787.8,946.6 788.2,945.1 788.6,943.7 789.1,942.3 789.5,940.8 789.9,939.4 790.4,938.0 790.8,936.5 791.2,935.1 791.7,933.7 792.1,932.2 792.5,930.8 792.9,929.3 793.4,927.9 793.8,926.5 794.2,925.0 794.7,923.6 795.1,922.2 795.5,920.7 795.9,919.2 796.3,917.8 796.7,916.3 797.0,914.8 797.4,913.3 797.8,911.8 798.2,910.4 798.6,908.9 799.0,907.5 799.5,906.1 800.0,904.7 800.6,903.4 801.2,902.1 802.0,900.6 802.9,899.0 803.9,897.6 804.9,896.5 805.9,896.0 806.8,896.3 807.8,897.2 808.8,898.6 809.7,900.1 810.5,901.7 811.3,903.0 811.8,904.6 812.3,906.4 812.8,908.3 813.2,910.0 813.8,911.4 814.4,912.3 815.2,912.5 816.7,912.2 818.4,911.8 819.8,911.2 820.4,910.5 821.0,909.5 821.4,908.3 821.9,907.0 822.2,905.4 822.5,903.8 822.8,902.1 823.1,900.3 823.3,898.6 823.5,896.9 823.8,895.3 824.0,893.9 824.2,892.4 824.3,890.9 824.5,889.4 824.7,887.9 824.9,886.5 825.0,885.0 825.2,883.5 825.3,882.0 825.5,880.5 825.6,879.0 825.7,877.5 825.9,876.0 826.0,874.5 826.1,873.0 826.2,871.5 826.3,870.0 826.5,868.5 826.6,867.0 826.7,865.5 826.8,864.0 826.9,862.5 827.0,861.0 827.1,859.5 827.3,858.0 827.4,856.5 827.5,855.0 827.6,853.5 827.7,852.0 827.9,850.5 828.0,849.0 828.1,847.5 828.2,846.0 828.3,844.5 828.4,843.0 828.5,841.6 828.6,840.1 828.7,838.6 828.8,837.1 828.9,835.6 829.0,834.1 829.1,832.6 829.2,831.1 829.3,829.6 829.4,828.1 829.5,826.6 829.7,825.1 829.8,823.6 829.9,822.1 830.0,820.6 830.1,819.1 830.3,817.6 830.4,816.1 830.5,814.6 830.7,813.1 830.8,811.6 830.9,810.1 831.1,808.6 831.2,807.1 831.4,805.6 831.5,804.1 831.7,802.6 831.8,801.1 832.0,799.6 832.2,798.1 832.3,796.6 832.5,795.1 832.7,793.7 833.0,792.2 833.2,790.7 833.5,789.3 833.7,787.8 834.0,786.3 834.4,784.8 834.9,783.3 835.4,781.8 836.0,780.4 836.6,779.0 837.3,777.8 838.1,776.8 839.1,775.9 840.3,775.1 841.7,774.3 843.1,773.6 844.5,772.9 845.9,772.1 847.2,771.2 848.3,770.3 849.4,769.2 850.4,767.9 851.4,766.7 852.4,765.4 853.4,764.2 854.4,763.1 855.5,762.1 856.6,761.4 857.9,760.9 859.3,760.4 860.7,760.1 862.3,759.7 863.8,759.6 865.3,759.5 866.8,759.6 868.3,759.8 869.8,760.0 871.3,760.2 872.8,760.4 874.3,760.5 875.8,760.5 877.3,760.4 878.9,760.2 880.4,760.0 882.0,759.7 883.5,759.3 884.9,758.9 886.3,758.5 887.5,758.0 888.6,757.4 889.6,756.4 890.6,755.3 891.5,754.0 892.3,752.6 893.2,751.1 894.1,749.7 895.0,748.4 896.0,747.2 897.0,746.3 898.2,745.6 899.5,745.1 901.0,744.6 902.5,744.2 904.0,743.8 905.5,743.3 906.9,742.8 908.2,742.1 909.4,741.1 910.7,739.9 911.9,738.8 913.0,737.8 914.2,737.1 915.4,737.1 916.5,737.8 917.6,739.0 918.7,740.4 919.9,741.6 921.2,742.0 922.5,742.1 923.9,742.2 925.4,742.3 927.0,742.3 928.5,742.4 930.1,742.4 931.7,742.5 933.2,742.5 934.7,742.5 936.1,742.3 937.5,741.7 938.9,740.9 940.3,740.1 941.6,739.6 943.1,739.5 944.6,739.5 946.0,739.5 947.5,739.6 949.1,739.6 950.6,739.7 952.1,739.8 953.6,739.9 955.1,739.9 956.6,740.1 958.1,740.3 959.5,740.8 961.0,741.4 962.4,742.0 963.9,742.6 965.3,743.1 966.7,743.5 968.1,743.8 969.5,743.7 970.8,743.3 972.1,742.6 973.5,741.7 974.8,740.7 976.1,739.7 977.4,738.9 978.7,738.3 980.1,738.0 981.6,737.9 983.0,737.8 984.5,737.7 986.0,737.7 987.6,737.6 989.1,737.6 990.6,737.5 992.1,737.5 993.6,737.5 995.1,737.5 996.6,737.6 998.1,737.8 999.5,738.2 1000.9,738.7 1002.4,739.2 1003.8,739.8 1005.3,740.4 1006.7,740.9 1008.1,741.5 1009.6,742.0 1011.0,742.4 1012.5,742.8 1013.9,743.0 1015.4,743.0 1016.9,742.9 1018.4,742.8 1019.9,742.7 1021.4,742.5 1022.9,742.3 1024.4,742.1 1025.8,741.9 1027.3,741.6 1028.7,741.2 1030.2,740.8 1031.6,740.3 1033.0,739.8 1034.4,739.3 1035.9,738.8 1037.3,738.3 1038.7,737.9 1040.2,737.5 1041.6,737.0 1043.1,736.6 1044.5,736.2 1046.0,735.7 1047.4,735.2 1048.9,734.8 1050.3,734.4 1051.8,733.9 1053.2,733.5 1054.7,733.2 1056.2,732.8 1057.6,732.5 1059.1,732.3 1060.6,732.1 1062.0,732.0 1063.5,732.0 1065.0,731.9 1066.5,731.9 1068.0,731.8 1069.5,731.8 1071.0,731.7 1072.5,731.7 1074.0,731.7 1075.5,731.6 1077.0,731.6 1078.5,731.6 1080.0,731.6 1081.5,731.6 1083.0,731.5 1084.5,731.5 1086.0,731.5 1087.5,731.5 1089.0,731.5 1090.5,731.5 1092.0,731.8 1093.5,732.2 1094.9,732.6 1096.4,732.9 1097.9,733.0 1099.4,733.0 1100.9,733.0 1102.3,733.0 1103.9,733.0 1105.4,733.0 1106.9,733.0 1108.4,733.0 1109.9,733.0 1111.4,733.0 1112.9,733.0 1114.4,733.0 1115.9,733.0 1117.4,733.0 1118.9,732.9 1120.3,732.7 1121.8,732.4 1123.3,732.1 1124.7,731.6 1126.2,731.2 1127.7,730.8 1129.1,730.5 1130.6,730.2 1132.1,730.0 1133.6,730.0 1135.1,729.9 1136.5,729.9 1138.0,729.8 1139.5,729.8 1141.0,729.7 1142.5,729.7 1144.0,729.7 1145.5,729.6 1147.0,729.6 1148.5,729.6 1150.1,729.6 1151.6,729.5 1153.1,729.5 1154.6,729.5 1156.1,729.5 1157.6,729.5 1159.1,729.5 1160.6,729.5 1162.1,729.5 1163.6,729.5 1165.1,729.5 1166.6,729.6 1168.1,729.6 1169.6,729.7 1171.1,729.7 1172.6,729.8 1174.1,729.8 1175.6,729.9 1177.1,730.0 1178.6,730.1 1180.1,730.2 1181.6,730.3 1183.1,730.4 1184.6,730.5 1186.0,730.6 1187.5,731.0 1189.0,731.4 1190.4,731.8 1191.9,732.0 1193.4,732.0 1194.9,732.0 1196.4,732.0 1197.9,732.0 1199.4,732.0 1200.9,732.0 1202.4,732.0 1203.9,732.0 1205.4,732.0 1206.9,732.0 1208.4,732.0 1209.9,732.0 1211.4,732.0 1212.9,732.0 1214.4,732.0 1215.9,732.0 1217.4,731.8 1218.9,731.5 1220.4,731.2 1221.8,730.9 1223.3,730.6 1224.8,730.5 1226.3,730.5 1227.8,730.5 1229.3,730.5 1230.8,730.5 1232.3,730.5 1233.8,730.6 1235.3,730.6 1236.8,730.6 1238.3,730.6 1239.8,730.7 1241.3,730.7 1242.8,730.7 1244.3,730.8 1245.8,730.8 1247.3,730.8 1248.8,730.9 1250.3,730.9 1251.8,731.0 1253.3,731.0 1254.8,731.2 1256.3,731.3 1257.8,731.5 1259.3,731.7 1260.8,732.0 1262.2,732.2 1263.7,732.5 1265.2,732.7 1266.7,732.8 1268.2,732.9 1269.7,733.0 1271.2,733.0 1272.7,733.0 1274.2,733.0 1275.7,733.0 1277.2,733.0 1278.7,733.0 1280.2,733.0 1281.7,733.0 1283.2,733.0 1284.7,733.0 1286.2,733.0 1287.7,733.0 1289.2,733.0 1290.8,733.0 1292.3,733.0 1293.8,733.0 1295.3,733.0 1296.8,733.0 1298.3,733.0 1299.8,733.0 1301.3,733.0 1302.8,733.0 1304.4,733.0 1305.9,733.0 1307.4,733.0 1308.9,733.0 1310.4,733.0 1311.9,733.0 1313.4,733.0 1314.9,733.0 1316.4,733.0 1317.9,733.0 1319.4,733.0 1320.9,733.0 1322.4,733.0 1323.9,733.0 1325.4,733.0 1326.9,733.0 1328.4,733.0 1329.9,733.0 1331.3,733.0 1332.8,733.0 1334.3,733.0 1335.8,733.0 1337.3,733.0 1338.7,733.0 1340.2,733.0 1341.7,733.1 1343.1,733.4 1344.5,733.8 1346.0,734.3 1347.4,734.9 1348.8,735.5 1350.3,736.2 1351.7,736.7 1353.1,737.2 1354.6,737.6 1356.0,737.9 1357.5,738.0 1359.0,738.0 1360.5,738.0 1362.0,738.0 1363.5,737.9 1365.0,737.9 1366.5,737.8 1368.0,737.8 1369.5,737.7 1371.0,737.6 1372.5,737.5 1373.9,737.2 1375.4,736.7 1376.8,736.0 1378.2,735.4 1379.6,735.0 1381.1,734.9 1382.5,734.8 1384.0,734.7 1385.5,734.6 1387.0,734.5 1388.5,734.4 1390.0,734.3 1391.5,734.2 1393.0,734.2 1394.5,734.1 1396.1,734.0 1397.6,734.0 1399.1,733.9 1400.6,733.9 1402.1,733.9 1403.6,733.9 1405.1,733.8 1406.6,733.8 1408.1,733.8 1409.6,733.8 1411.0,733.9 1412.5,734.2 1413.9,734.7 1415.3,735.2 1416.8,735.8 1418.2,736.4 1419.6,736.7 1421.1,736.9 1422.6,737.1 1424.1,737.2 1425.7,737.3 1427.2,737.4 1428.7,737.6 1430.2,737.7 1431.6,737.9 1433.0,738.1 1434.4,738.5 1435.7,739.2 1437.0,739.9 1438.2,740.8 1439.5,741.7 1440.7,742.7 1442.0,743.6 1443.3,744.5 1444.6,745.3 1445.9,745.9 1447.3,746.5 1448.7,747.1 1450.2,747.6 1451.6,748.2 1453.0,748.8 1454.2,749.5 1455.4,750.3 1456.6,751.2 1457.7,752.2 1458.8,753.4 1459.8,754.5 1460.8,755.8 1461.6,757.1 1462.3,758.3 1462.8,759.6 1463.3,761.0 1463.8,762.4 1464.2,763.8 1464.6,765.3 1464.9,766.8 1465.3,768.3 1465.5,769.8 1465.8,771.3 1466.1,772.8 1466.3,774.3 1466.5,775.8 1466.7,777.2 1466.9,778.7 1467.1,780.2 1467.3,781.7 1467.5,783.2 1467.7,784.7 1467.8,786.2 1468.0,787.7 1468.1,789.2 1468.3,790.7 1468.4,792.1 1468.6,793.6 1468.7,795.1 1468.9,796.6 1469.0,798.1 1469.1,799.6 1469.3,801.1 1469.4,802.6 1469.5,804.1 1469.6,805.6 1469.8,807.1 1469.9,808.6 1470.0,810.1 1470.1,811.6 1470.3,813.1 1470.4,814.6 1470.5,816.1 1470.6,817.6 1470.7,819.1 1470.8,820.6 1471.0,822.1 1471.1,823.6 1471.2,825.1 1471.3,826.6 1471.4,828.1 1471.5,829.6 1471.6,831.1 1471.7,832.6 1471.8,834.1 1471.9,835.5 1472.0,837.0 1472.1,838.5 1472.2,840.0 1472.3,841.5 1472.4,843.0 1472.5,844.5 1472.6,846.0 1472.7,847.5 1472.8,849.0 1472.9,850.5 1473.0,852.0 1473.1,853.5 1473.2,855.0 1473.3,856.5 1473.4,858.0 1473.5,859.5 1473.5,861.0 1473.6,862.5 1473.7,864.0 1473.8,865.5 1473.9,867.0 1474.0,868.5 1474.1,870.0 1474.2,871.5 1474.3,873.0 1474.4,874.5 1474.5,876.0 1474.6,877.5 1474.7,879.0 1474.7,880.5 1474.8,882.0 1474.9,883.5 1475.0,885.0 1475.1,886.5 1475.2,888.0 1475.3,889.5 1475.3,891.0 1475.4,892.5 1475.5,893.9 1475.6,895.4 1475.7,896.9 1475.8,898.4 1475.9,899.9 1475.9,901.4 1476.0,902.9 1476.1,904.4 1476.2,905.9 1476.3,907.4 1476.4,908.9 1476.5,910.4 1476.5,911.9 1476.6,913.4 1476.7,914.9 1476.8,916.4 1476.9,917.9 1477.0,919.4 1477.1,920.9 1477.2,922.4 1477.3,923.9 1477.4,925.4 1477.5,926.9 1477.6,928.4 1477.7,929.9 1477.7,931.4 1477.8,932.9 1477.9,934.4 1478.0,935.9 1478.1,937.4 1478.2,938.9 1478.3,940.4 1478.4,941.9 1478.5,943.4 1478.6,944.9 1478.7,946.4 1478.8,947.9 1478.9,949.4 1479.0,950.9 1479.1,952.3 1479.2,953.8 1479.3,955.3 1479.4,956.8 1479.5,958.3 1479.6,959.8 1479.7,961.3 1479.8,962.8 1479.9,964.3 1480.1,965.8 1480.2,967.3 1480.3,968.8 1480.4,970.3 1480.5,971.8 1480.6,973.3 1480.8,974.8 1480.9,976.3 1481.0,977.8 1481.2,979.3 1481.3,980.8 1481.4,982.3 1481.6,983.7 1481.7,985.2 1481.9,986.7 1482.1,988.2 1482.2,989.7 1482.4,991.2 1482.6,992.7 1482.7,994.2 1482.9,995.7 1483.1,997.2 1483.3,998.7 1483.5,1000.1 1483.6,1001.6 1483.8,1003.1 1484.0,1004.6 1484.2,1006.1 1484.3,1007.6 1484.5,1009.1 1484.7,1010.6 1484.9,1012.1 1485.0,1013.6 1485.2,1015.0 1485.3,1016.5 1485.5,1018.0 1485.7,1019.5 1485.8,1021.0 1485.9,1022.5 1486.1,1024.0 1486.2,1025.5 1486.3,1027.0 1486.5,1028.5 1486.6,1030.0 1486.7,1031.5 1486.9,1033.0 1487.0,1034.5 1487.1,1036.0 1487.2,1037.5 1487.4,1039.0 1487.5,1040.4 1487.6,1041.9 1487.7,1043.4 1487.8,1044.9 1488.0,1046.4 1488.1,1047.9 1488.2,1049.4 1488.3,1050.9 1488.5,1052.4 1488.6,1053.9 1488.7,1055.4 1488.9,1056.9 1489.0,1058.4 1489.1,1059.9 1489.3,1061.4 1489.4,1062.9 1489.6,1064.4 1489.7,1065.9 1489.9,1067.3 1490.0,1068.8 1490.1,1070.3 1490.3,1071.8 1490.4,1073.3 1490.6,1074.8 1490.7,1076.3 1490.9,1077.8 1491.0,1079.3 1491.2,1080.8 1491.4,1082.3 1491.5,1083.8 1491.7,1085.3 1491.9,1086.8 1492.1,1088.3 1492.2,1089.7 1492.4,1091.2 1492.7,1092.7 1492.9,1094.2 1493.1,1095.7 1493.4,1097.4 1493.6,1099.3 1493.9,1101.2 1494.2,1103.1 1494.5,1105.0 1494.9,1106.7 1495.2,1108.1 1495.6,1109.2 1496.0,1109.8 1496.4,1110.0 1496.9,1109.5 1497.4,1108.4 1498.0,1106.9 1498.6,1105.1 1499.2,1103.2 1499.6,1101.4 1500.0,1099.9 1500.4,1098.4 1500.6,1097.0 1500.9,1095.5 1501.2,1094.0 1501.4,1092.5 1501.7,1091.1 1501.9,1089.6 1502.1,1088.1 1502.3,1086.6 1502.5,1085.1 1502.7,1083.6 1502.9,1082.1 1503.1,1080.6 1503.2,1079.1 1503.4,1077.6 1503.6,1076.1 1503.9,1074.6 1504.1,1073.1 1504.3,1071.7 1504.5,1070.2 1504.7,1068.7 1504.9,1067.2 1505.1,1065.7 1505.3,1064.2 1505.4,1062.7 1505.6,1061.3 1505.8,1059.8 1506.0,1058.3 1506.2,1056.8 1506.4,1055.3 1506.6,1053.8 1506.8,1052.3 1507.0,1050.8 1507.2,1049.3 1507.4,1047.9 1507.6,1046.4 1507.8,1044.9 1508.0,1043.4 1508.2,1041.9 1508.4,1040.4 1508.6,1038.9 1508.8,1037.5 1509.0,1036.0 1509.3,1034.5 1509.5,1033.0 1509.7,1031.5 1509.9,1030.0 1510.2,1028.6 1510.4,1027.1 1510.7,1025.6 1510.9,1024.1 1511.2,1022.6 1511.4,1021.2 1511.7,1019.7 1511.9,1018.2 1512.2,1016.7 1512.4,1015.2 1512.7,1013.8 1512.9,1012.3 1513.2,1010.8 1513.4,1009.3 1513.7,1007.9 1513.9,1006.4 1514.2,1004.9 1514.4,1003.4 1514.7,1001.9 1514.9,1000.5 1515.2,999.0 1515.4,997.5 1515.7,996.0 1515.9,994.5 1516.2,993.1 1516.4,991.6 1516.6,990.1 1516.9,988.6 1517.1,987.1 1517.4,985.7 1517.6,984.2 1517.9,982.7 1518.1,981.2 1518.4,979.7 1518.6,978.3 1518.9,976.8 1519.1,975.3 1519.4,973.8 1519.6,972.3 1519.9,970.9 1520.1,969.4 1520.3,967.9 1520.6,966.4 1520.8,964.9 1521.0,963.4 1521.2,962.0 1521.5,960.5 1521.7,959.0 1521.9,957.5 1522.1,956.0 1522.3,954.5 1522.6,953.0 1522.8,951.5 1523.0,950.1 1523.3,948.6 1523.6,947.1 1523.8,945.6 1524.1,944.2 1524.4,942.7 1524.7,941.2 1525.0,939.8 1525.4,938.3 1525.8,936.9 1526.2,935.4 1526.6,934.0 1527.1,932.6 1527.6,931.1 1528.1,929.7 1528.6,928.3 1529.2,926.9 1529.8,925.5 1530.4,924.2 1531.1,922.9 1531.9,921.6 1532.7,920.4 1533.6,919.1 1534.4,917.8 1535.2,916.5 1535.9,915.2 1536.5,913.8 1537.0,912.4 1537.4,910.8 1537.8,909.3 1538.2,907.8 1538.7,906.4 1539.3,905.1 1539.9,903.9 1541.0,902.8 1542.4,901.7 1543.6,901.0 1544.2,901.3 1544.6,902.2 1545.0,903.8 1545.3,905.6 1545.6,907.6 1545.9,909.3 1546.2,910.9 1546.4,912.4 1546.7,913.9 1546.9,915.4 1547.1,917.0 1547.3,918.5 1547.6,920.0 1547.8,921.5 1548.2,922.9 1548.5,924.2 1549.0,925.5 1549.9,927.0 1551.0,928.5 1552.2,929.6 1553.0,930.0 1553.7,929.5 1554.3,928.2 1554.9,926.6 1555.4,924.7 1555.9,923.0 1556.3,921.5 1556.7,920.1 1557.1,918.7 1557.4,917.2 1557.7,915.8 1558.1,914.3 1558.4,912.8 1558.7,911.3 1559.0,909.9 1559.2,908.4 1559.5,906.9 1559.8,905.4 1560.1,904.0 1560.4,902.5 1560.8,901.0 1561.1,899.6 1561.5,898.1 1561.8,896.6 1562.2,895.2 1562.5,893.7 1562.9,892.3 1563.2,890.8 1563.6,889.3 1563.9,887.9 1564.3,886.4 1564.7,885.0 1565.1,883.5 1565.4,882.1 1565.8,880.6 1566.2,879.2 1566.6,877.7 1566.9,876.1 1567.2,874.6 1567.6,873.0 1567.9,871.5 1568.3,870.0 1568.8,868.6 1569.3,867.3 1569.9,866.2 1570.8,865.0 1572.0,863.8 1573.3,862.8 1574.6,862.5 1575.6,862.9 1576.6,863.9 1577.6,865.3 1578.5,866.8 1579.5,868.2 1580.5,869.3 1581.6,870.4 1582.8,871.4 1583.9,872.5 1585.0,873.5 1585.8,874.7 1586.5,875.9 1587.0,877.2 1587.5,878.6 1588.0,880.1 1588.4,881.5 1588.8,883.0 1589.2,884.5 1589.6,886.0 1590.0,887.5 1590.4,888.9 1590.8,890.4 1591.2,891.8 1591.6,893.3 1592.0,894.7 1592.3,896.2 1592.7,897.6 1593.0,899.1 1593.4,900.6 1593.7,902.0 1594.0,903.5 1594.3,905.0 1594.6,906.4 1594.8,907.9 1595.1,909.4 1595.4,910.9 1595.6,912.3 1595.8,913.8 1596.1,915.3 1596.4,916.8 1596.6,918.3 1596.9,919.7 1597.2,921.2 1597.5,922.7 1597.9,924.1 1598.2,925.6 1598.6,927.1 1598.9,928.5 1599.3,930.0 1599.7,931.5 1600.1,932.9 1600.5,934.4 1601.0,935.8 1601.4,937.2 1601.9,938.6 1602.5,940.0 1603.1,941.3 1603.8,942.6 1604.6,943.9 1605.4,945.2 1606.3,946.4 1607.1,947.7 1608.0,948.9 1608.9,950.1 1609.7,951.5 1610.6,952.9 1611.4,954.4 1612.3,955.8 1613.2,956.9 1614.3,957.7 1615.4,958.1 1616.9,958.3 1618.5,958.5 1620.2,958.7 1621.7,958.8 1622.9,958.8 1624.0,958.3 1625.0,957.3 1626.0,956.0 1626.9,954.5 1627.7,952.9 1628.4,951.3 1628.8,949.9 1629.2,948.5 1629.6,947.1 1629.9,945.7 1630.2,944.3 1630.5,942.8 1630.7,941.3 1631.0,939.8 1631.2,938.3 1631.4,936.8 1631.6,935.2 1631.8,933.7 1631.9,932.2 1632.1,930.6 1632.3,929.1 1632.5,927.6 1632.7,926.1 1632.8,924.7 1633.0,923.2 1633.2,921.7 1633.3,920.2 1633.5,918.7 1633.6,917.2 1633.8,915.7 1633.9,914.2 1634.1,912.7 1634.2,911.2 1634.4,909.7 1634.5,908.2 1634.6,906.7 1634.8,905.2 1634.9,903.8 1635.0,902.3 1635.2,900.8 1635.3,899.3 1635.5,897.8 1635.6,896.3 1635.8,894.8 1635.9,893.3 1636.0,891.8 1636.1,890.3 1636.3,888.8 1636.4,887.3 1636.5,885.8 1636.6,884.3 1636.8,882.8 1636.9,881.3 1637.0,879.8 1637.2,878.3 1637.4,876.8 1637.6,875.3 1637.8,873.9 1638.0,872.4 1638.3,870.8 1638.7,868.9 1639.1,867.0 1639.6,865.2 1640.1,863.8 1640.6,862.8 1641.1,862.5 1641.6,862.9 1642.2,864.0 1642.8,865.4 1643.5,867.1 1644.1,869.0 1644.6,870.8 1645.0,872.4 1645.3,873.8 1645.5,875.3 1645.8,876.7 1646.0,878.2 1646.2,879.7 1646.4,881.2 1646.6,882.7 1646.7,884.2 1646.9,885.7 1647.1,887.2 1647.2,888.7 1647.4,890.2 1647.6,891.7 1647.8,893.2 1648.0,894.7 1648.2,896.2 1648.4,897.7 1648.6,899.2 1648.8,900.7 1649.0,902.2 1649.2,903.7 1649.4,905.2 1649.6,906.6 1649.9,908.1 1650.1,909.6 1650.4,911.1 1650.7,912.5 1651.0,913.9 1651.4,915.4 1651.8,916.9 1652.3,918.3 1652.8,919.8 1653.4,921.2 1654.1,922.6 1654.7,923.9 1655.5,925.2 1656.3,926.4 1657.3,927.7 1658.6,928.9 1659.8,929.8 1660.8,930.0 1661.7,929.4 1662.6,928.2 1663.4,926.6 1664.2,924.9 1664.8,923.3 1665.2,921.9 1665.6,920.5 1665.9,919.0 1666.2,917.6 1666.5,916.2 1666.8,914.7 1667.0,913.2 1667.3,911.7 1667.5,910.2 1667.7,908.7 1667.9,907.1 1668.1,905.6 1668.3,904.1 1668.5,902.6 1668.7,901.1 1668.9,899.6 1669.0,898.1 1669.2,896.6 1669.4,895.1 1669.6,893.7 1669.7,892.2 1669.9,890.7 1670.0,889.2 1670.2,887.7 1670.3,886.2 1670.5,884.7 1670.6,883.2 1670.8,881.7 1670.9,880.2 1671.1,878.7 1671.2,877.2 1671.4,875.7 1671.5,874.3 1671.7,872.8 1671.9,871.3 1672.0,869.8 1672.2,868.3 1672.4,866.8 1672.5,865.3 1672.7,863.8 1672.8,862.3 1673.0,860.8 1673.1,859.3 1673.3,857.8 1673.5,856.3 1673.7,854.8 1673.9,853.3 1674.2,851.9 1674.4,850.4 1674.7,848.8 1675.2,847.0 1675.7,845.2 1676.3,843.6 1676.8,842.7 1677.2,842.6 1677.6,843.1 1678.0,844.2 1678.4,845.7 1678.8,847.5 1679.2,849.4 1679.5,851.3 1679.8,853.2 1680.0,854.8 1680.2,856.3 1680.3,857.8 1680.5,859.3 1680.6,860.7 1680.8,862.2 1680.9,863.7 1681.0,865.2 1681.1,866.7 1681.3,868.2 1681.4,869.7 1681.5,871.2 1681.6,872.7 1681.7,874.2 1681.7,875.7 1681.8,877.2 1681.9,878.7 1682.0,880.2 1682.1,881.7 1682.2,883.2 1682.2,884.7 1682.3,886.2 1682.4,887.7 1682.5,889.2 1682.5,890.7 1682.6,892.2 1682.7,893.7 1682.8,895.2 1682.8,896.7 1682.9,898.2 1683.0,899.7 1683.0,901.2 1683.1,902.7 1683.1,904.2 1683.2,905.7 1683.3,907.2 1683.3,908.7 1683.4,910.2 1683.4,911.7 1683.5,913.2 1683.5,914.7 1683.6,916.2 1683.7,917.7 1683.7,919.2 1683.8,920.7 1683.8,922.2 1683.9,923.7 1683.9,925.2 1684.0,926.7 1684.0,928.2 1684.1,929.7 1684.1,931.2 1684.2,932.7 1684.3,934.2 1684.3,935.7 1684.4,937.2 1684.4,938.7 1684.5,940.2 1684.6,941.7 1684.6,943.2 1684.7,944.7 1684.7,946.2 1684.8,947.7 1684.8,949.2 1684.9,950.7 1684.9,952.2 1685.0,953.7 1685.0,955.2 1685.1,956.7 1685.2,958.2 1685.2,959.7 1685.3,961.2 1685.4,962.7 1685.4,964.2 1685.5,965.7 1685.6,967.2 1685.7,968.7 1685.8,970.2 1685.9,971.7 1686.1,973.2 1686.3,974.9 1686.5,976.8 1686.9,978.8 1687.2,980.6 1687.6,982.3 1688.0,983.7 1688.4,984.6 1688.8,985.0 1689.1,984.7 1689.5,983.9 1690.0,982.6 1690.4,981.0 1690.8,979.2 1691.2,977.3 1691.6,975.4 1691.8,973.6 1692.1,972.1 1692.2,970.6 1692.4,969.1 1692.6,967.6 1692.7,966.1 1692.8,964.6 1693.0,963.2 1693.1,961.7 1693.2,960.2 1693.3,958.7 1693.4,957.2 1693.5,955.7 1693.6,954.2 1693.7,952.7 1693.8,951.1 1693.8,949.6 1693.9,948.1 1694.0,946.6 1694.1,945.1 1694.2,943.6 1694.3,942.1 1694.4,940.6 1694.6,939.1 1694.7,937.6 1694.8,936.1 1694.9,934.6 1695.0,933.1 1695.1,931.6 1695.1,930.1 1695.2,928.6 1695.3,927.1 1695.4,925.5 1695.5,924.0 1695.6,922.5 1695.7,921.0 1695.9,919.5 1696.0,918.0 1696.1,916.5 1696.3,915.1 1696.5,913.6 1696.7,912.2 1696.9,910.7 1697.1,909.2 1697.6,907.4 1698.1,905.6 1698.7,904.0 1699.4,902.9 1700.1,902.5 1700.8,903.2 1701.5,904.6 1702.3,906.5 1703.2,908.2 1704.1,909.6 1705.1,910.0 1706.5,909.5 1707.9,908.5 1708.8,907.4 1709.4,906.3 1709.8,905.1 1710.2,903.7 1710.5,902.2 1710.8,900.6 1711.0,899.0 1711.3,897.4 1711.5,895.8 1711.8,894.2 1712.1,892.7 1712.5,891.2 1713.0,889.9 1713.8,888.4 1714.7,886.9 1715.8,885.6 1716.8,885.0 1717.7,885.4 1718.6,886.6 1719.5,888.2 1720.5,889.6 1721.7,890.4 1723.0,891.2 1724.5,891.8 1725.9,892.0 1727.3,891.6 1728.8,890.7 1730.2,889.5 1731.4,888.5 1732.4,888.0 1733.1,888.3 1733.7,889.3 1734.2,890.7 1734.7,892.5 1735.1,894.3 1735.6,896.1 1736.1,897.7 1736.6,899.1 1737.1,900.5 1737.6,901.9 1738.2,903.3 1738.7,904.7 1739.3,906.1 1739.9,907.5 1740.5,908.8 1741.1,910.2 1741.8,911.5 1742.6,912.8 1743.5,914.1 1744.4,915.3 1745.3,916.6 1746.1,917.9 1746.8,919.2 1747.3,920.5 1747.7,921.9 1748.1,923.3 1748.4,924.7 1748.7,926.2 1749.0,927.6 1749.3,929.1 1749.5,930.6 1749.7,932.1 1749.9,933.6 1750.1,935.1 1750.4,936.7 1750.6,938.2 1750.8,939.7 1751.0,941.1 1751.3,942.6 1751.5,944.1 1751.7,945.6 1751.9,947.1 1752.1,948.6 1752.3,950.1 1752.5,951.6 1752.7,953.1 1752.9,954.5 1753.1,956.0 1753.3,957.5 1753.5,959.0 1753.7,960.5 1753.9,962.0 1754.2,963.5 1754.4,964.9 1754.7,966.4 1755.0,967.9 1755.3,969.3 1755.6,970.8 1756.0,972.2 1756.4,973.7 1756.8,975.1 1757.2,976.6 1757.7,978.0 1758.1,979.4 1758.6,980.9 1759.1,982.3 1759.6,983.7 1760.0,985.1 1760.5,986.5 1761.1,987.9 1761.6,989.3 1762.2,990.7 1762.8,992.1 1763.4,993.5 1763.9,994.9 1764.4,996.3 1764.9,997.7 1765.3,999.2 1765.7,1000.6 1766.1,1002.1 1766.4,1003.5 1766.7,1005.0 1767.1,1006.5 1767.4,1008.0 1767.7,1009.4 1768.1,1010.9 1768.6,1012.3 1769.0,1013.7 1769.6,1015.2 1770.1,1016.7 1770.7,1018.2 1771.4,1019.7 1772.1,1021.0 1772.9,1022.1 1773.8,1023.0 1775.0,1023.8 1776.5,1024.5 1778.1,1024.9 1779.3,1024.9 1780.6,1024.4 1781.7,1023.4 1782.8,1022.1 1783.8,1020.7 1784.7,1019.4 1785.5,1018.2 1786.3,1016.9 1786.9,1015.6 1787.6,1014.3 1788.1,1012.9 1788.7,1011.5 1789.3,1010.1 1789.8,1008.6 1790.3,1007.2 1790.9,1005.7 1791.5,1004.3 1792.1,1002.9 1792.7,1001.6 1793.3,1000.2 1794.0,998.9 1794.6,997.5 1795.3,996.1 1796.0,994.8 1796.7,993.4 1797.4,992.1 1798.2,990.8 1799.0,989.6 1799.8,988.4 1800.8,986.9 1801.9,985.6 1802.9,985.0 1804.0,985.3 1805.1,986.4 1806.2,987.8 1807.1,989.2 1807.7,990.5 1808.2,991.8 1808.6,993.2 1809.0,994.6 1809.4,996.0 1809.7,997.5 1810.0,999.0 1810.3,1000.5 1810.5,1002.0 1810.8,1003.6 1811.0,1005.1 1811.3,1006.7 1811.6,1008.2 1811.9,1009.6 1812.3,1011.1 1812.6,1012.6 1812.9,1014.0 1813.2,1015.5 1813.5,1017.0 1813.8,1018.5 1814.2,1019.9 1814.5,1021.4 1814.8,1022.9 1815.2,1024.3 1815.5,1025.8 1815.9,1027.2 1816.3,1028.7 1816.7,1030.1 1817.2,1031.5 1817.6,1033.0 1818.1,1034.6 1818.6,1036.3 1819.1,1037.8 1819.7,1039.3 1820.4,1040.6 1821.2,1041.7 1822.0,1042.5 1823.3,1043.2 1824.9,1043.7 1826.1,1043.8 1827.1,1043.2 1828.0,1042.1 1828.7,1040.6 1829.5,1038.9 1830.1,1037.2 1830.6,1035.6 1831.1,1034.2 1831.5,1032.8 1831.9,1031.4 1832.2,1030.0 1832.6,1028.5 1832.9,1027.0 1833.2,1025.6 1833.5,1024.1 1833.8,1022.6 1834.0,1021.1 1834.3,1019.6 1834.5,1018.1 1834.8,1016.6 1835.0,1015.1 1835.2,1013.6 1835.5,1012.1 1835.7,1010.6 1835.9,1009.1 1836.2,1007.6 1836.4,1006.2 1836.6,1004.7 1836.8,1003.2 1837.0,1001.7 1837.2,1000.2 1837.4,998.7 1837.6,997.3 1837.8,995.8 1838.0,994.3 1838.2,992.8 1838.4,991.3 1838.6,989.8 1838.7,988.3 1838.9,986.8 1839.1,985.3 1839.3,983.9 1839.5,982.4 1839.7,980.9 1839.9,979.4 1840.1,977.9 1840.3,976.4 1840.5,974.9 1840.7,973.4 1840.9,971.9 1841.1,970.5 1841.3,969.0 1841.5,967.5 1841.7,966.0 1841.9,964.5 1842.1,963.0 1842.3,961.5 1842.5,960.0 1842.7,958.5 1842.9,957.0 1843.1,955.5 1843.3,954.1 1843.5,952.6 1843.7,951.1 1844.0,949.6 1844.2,948.1 1844.5,946.6 1844.8,945.2 1845.0,943.7 1845.3,942.3 1845.6,940.8 1845.9,939.3 1846.3,937.8 1846.6,936.3 1847.0,934.8 1847.4,933.2 1847.8,931.7 1848.3,930.2 1848.8,928.8 1849.4,927.4 1850.0,926.2 1850.7,925.1 1851.6,924.0 1852.8,922.8 1854.2,921.8 1855.6,921.2 1856.8,921.0 1858.0,921.5 1859.2,922.6 1860.3,923.8 1861.4,925.2 1862.3,926.4 1863.1,927.6 1863.8,928.8 1864.5,930.2 1865.2,931.5 1865.8,932.9 1866.5,934.3 1867.1,935.7 1867.8,937.1 1868.5,938.4 1869.3,939.7 1870.1,940.9 1871.0,942.4 1872.0,943.9 1873.0,945.2 1874.0,946.3 1875.1,946.9 1876.4,947.0 1877.8,946.8 1879.5,946.6 1881.1,946.4 1882.7,946.1 1884.1,946.0 1885.2,946.2 1886.2,947.0 1887.1,948.3 1888.0,949.9 1888.6,951.6 1889.2,953.0 1889.6,954.3 1890.0,955.7 1890.3,957.1 1890.6,958.6 1890.9,960.1 1891.1,961.6 1891.4,963.1 1891.6,964.6 1891.8,966.1 1892.1,967.6 1892.3,969.2 1892.6,970.7 1892.9,972.1 1893.2,973.6 1893.6,975.1 1893.8,976.7 1894.1,978.2 1894.5,979.8 1894.8,981.3 1895.2,982.8 1895.6,984.2 1896.1,985.6 1896.6,986.8 1897.3,988.0 1898.6,989.2 1899.8,990.0 1900.6,989.8 1901.3,988.9 1901.9,987.6 1902.5,985.9 1903.0,984.1 1903.4,982.3 1903.8,980.6 1904.2,979.1 1904.6,977.7 1904.9,976.2 1905.2,974.8 1905.5,973.3 1905.8,971.8 1906.1,970.3 1906.3,968.8 1906.6,967.4 1906.9,965.9 1907.1,964.4 1907.4,962.9 1907.7,961.4 1908.0,960.0 1908.3,958.5 1908.7,957.1 1909.1,955.6 1909.4,954.1 1909.8,952.7 1910.2,951.2 1910.6,949.8 1911.0,948.3 1911.4,946.9 1911.8,945.4 1912.1,944.0 1912.5,942.5 1912.8,941.1 1913.1,939.6 1913.4,938.1 1913.6,936.6 1913.9,935.2 1914.1,933.7 1914.4,932.2 1914.6,930.7 1914.9,929.3 1915.1,927.8 1915.3,926.3 1915.5,924.8 1915.8,923.3 1916.0,921.8 1916.2,920.3 1916.4,918.9 1916.6,917.4 1916.9,915.9 1917.1,914.4 1917.3,912.9 1917.5,911.4 1917.7,909.8 1917.8,908.3 1918.0,906.8 1918.1,905.2 1918.3,903.7 1918.5,902.2 1918.7,900.7 1919.0,899.2 1919.3,897.8 1919.6,896.4 1920.0,895.1 1920.6,893.6 1921.5,892.1 1922.6,891.1 1923.6,891.2 1924.6,892.3 1925.6,893.9 1926.7,895.3 1927.9,896.0 1929.1,895.7 1930.6,894.9 1932.0,893.8 1933.4,892.9 1934.5,892.5 1935.3,892.9 1936.0,894.0 1936.7,895.6 1937.3,897.4 1937.8,899.1 1938.2,900.6 1938.5,902.0 1938.8,903.5 1939.0,904.9 1939.3,906.4 1939.5,907.9 1939.7,909.4 1939.9,910.9 1940.1,912.4 1940.3,913.9 1940.5,915.4 1940.7,916.9 1940.9,918.4 1941.1,919.9 1941.3,921.4 1941.6,922.9 1941.8,924.4 1942.0,926.0 1942.2,927.5 1942.5,929.1 1942.7,930.7 1943.0,932.2 1943.3,933.7 1943.6,935.1 1944.0,936.4 1944.5,937.6 1945.6,938.8 1946.9,939.8 1947.9,939.9 1948.6,939.3 1949.2,938.1 1949.8,936.5 1950.3,934.7 1950.8,932.9 1951.2,931.1 1951.6,929.6 1952.0,928.2 1952.4,926.7 1952.7,925.3 1953.1,923.8 1953.4,922.4 1953.7,920.9 1954.0,919.4 1954.3,918.0 1954.6,916.5 1954.8,915.0 1955.1,913.5 1955.4,912.0 1955.6,910.5 1955.9,909.0 1956.1,907.6 1956.4,906.1 1956.6,904.6 1956.9,903.1 1957.1,901.6 1957.4,900.2 1957.7,898.7 1957.9,897.2 1958.2,895.7 1958.4,894.2 1958.6,892.8 1958.9,891.3 1959.1,889.8 1959.3,888.3 1959.6,886.8 1959.8,885.4 1960.0,883.9 1960.2,882.4 1960.5,880.9 1960.7,879.4 1960.9,877.9 1961.1,876.4 1961.3,875.0 1961.5,873.5 1961.7,872.0 1961.9,870.5 1962.1,869.0 1962.3,867.5 1962.5,866.0 1962.6,864.5 1962.8,863.0 1963.0,861.5 1963.1,860.0 1963.2,858.5 1963.4,857.0 1963.6,855.5 1963.7,854.0 1963.9,852.6 1964.1,851.1 1964.3,849.6 1964.5,848.1 1964.7,846.6 1965.0,845.2 1965.2,843.6 1965.5,841.7 1965.9,839.8 1966.3,838.0 1966.7,836.5 1967.3,835.4 1967.9,835.0 1969.1,835.2 1970.8,835.6 1972.2,836.1 1973.1,837.3 1974.0,838.9 1974.8,840.4 1975.8,841.0 1977.2,840.9 1978.8,840.6 1980.3,840.2 1981.4,839.7 1982.2,838.8 1983.0,837.6 1983.6,836.2 1984.3,834.7 1984.9,833.1 1985.5,831.5 1986.2,830.0 1987.0,828.7 1988.0,827.6 1989.1,826.5 1990.3,825.5 1991.5,824.5 1992.7,823.5 1993.8,822.5 1994.8,821.4 1995.6,820.3 1996.3,819.1 1996.8,817.8 1997.4,816.4 1997.8,815.1 1998.3,813.6 1998.7,812.2 1999.0,810.7 1999.4,809.2 1999.8,807.7 2000.2,806.2 2000.5,804.7 2001.0,803.2 2001.4,801.7 2001.9,800.3 2002.4,798.9 2002.9,797.4 2003.4,795.9 2004.0,794.3 2004.6,792.9 2005.2,791.5 2005.9,790.3 2006.7,789.2 2007.6,788.2 2008.9,787.2 2010.3,786.4 2011.7,786.0 2013.1,786.2 2014.4,786.9 2015.7,787.9 2017.0,788.8 2018.2,789.6 2019.4,790.5 2020.6,791.5 2021.8,792.4 2022.9,793.3 2024.1,794.2 2025.4,795.2 2026.6,796.2 2027.9,797.3 2029.2,798.3 2030.5,799.2 2031.7,799.8 2032.9,800.0 2034.2,799.7 2035.5,798.8 2036.7,797.6 2037.7,796.4 2038.6,795.1 2039.3,793.4 2039.9,791.6 2040.5,790.1 2041.1,789.0 2041.7,788.9 2042.5,789.7 2043.3,791.2 2044.0,793.0 2044.4,794.6 2044.6,796.1 2044.8,797.5 2045.0,798.9 2045.1,800.4 2045.2,801.9 2045.3,803.3 2045.4,804.8 2045.5,806.3 2045.6,807.8 2045.7,809.3 2045.7,810.9 2045.8,812.4 2045.9,813.9 2045.9,815.4 2046.0,817.0 2046.0,818.5 2046.1,820.0 2046.2,821.5 2046.2,823.1 2046.3,824.6 2046.4,826.1 2046.5,827.6 2046.6,829.1 2046.7,830.6 2046.8,832.1 2046.9,833.6 2046.9,835.1 2047.0,836.7 2047.1,838.2 2047.2,839.7 2047.2,841.3 2047.3,842.8 2047.4,844.3 2047.5,845.8 2047.6,847.3 2047.7,848.8 2047.8,850.3 2048.0,851.8 2048.1,853.3 2048.3,854.8 2048.4,856.2 2048.6,857.6 2048.8,859.1 2049.1,860.5 2049.7,862.2 2050.5,863.9 2051.3,864.9 2051.8,864.9 2052.2,864.2 2052.7,863.1 2053.1,861.5 2053.4,859.8 2053.7,857.8 2054.0,855.9 2054.3,854.1 2054.5,852.5 2054.7,851.0 2054.9,849.5 2055.0,848.0 2055.1,846.5 2055.3,845.0 2055.4,843.5 2055.5,842.0 2055.6,840.5 2055.7,839.0 2055.8,837.5 2055.9,836.0 2055.9,834.5 2056.0,833.0 2056.1,831.5 2056.3,830.0 2056.4,828.5 2056.5,827.0 2056.7,825.5 2056.8,824.0 2057.0,822.6 2057.2,821.0 2057.5,819.1 2057.7,817.2 2058.1,815.3 2058.4,813.4 2058.8,811.7 2059.1,810.4 2059.5,809.4 2059.9,808.8 2060.2,808.9 2060.6,809.7 2060.9,811.0 2061.3,812.6 2061.6,814.5 2062.0,816.4 2062.5,818.2 2062.9,819.8 2063.5,821.4 2064.2,823.1 2064.9,824.8 2065.7,826.3 2066.4,827.2 2067.2,827.5 2067.9,826.9 2068.7,825.6 2069.4,824.0 2070.1,822.2 2070.6,820.6 2071.0,819.1 2071.4,817.7 2071.8,816.3 2072.1,814.8 2072.4,813.4 2072.7,811.9 2072.9,810.4 2073.2,808.9 2073.4,807.4 2073.7,805.9 2073.9,804.4 2074.1,802.9 2074.3,801.4 2074.5,799.9 2074.7,798.4 2074.9,796.9 2075.1,795.5 2075.3,794.0 2075.4,792.5 2075.6,791.0 2075.7,789.5 2075.9,788.0 2076.0,786.5 2076.2,785.0 2076.3,783.5 2076.5,782.0 2076.6,780.5 2076.8,779.0 2077.0,777.5 2077.1,776.0 2077.3,774.5 2077.5,773.1 2077.7,771.6 2078.0,770.1 2078.2,768.6 2078.5,767.1 2078.8,765.6 2079.1,764.0 2079.4,762.5 2079.7,761.0 2080.1,759.5 2080.6,758.1 2081.1,756.8 2081.7,755.6 2082.6,754.3 2083.8,753.0 2085.0,752.2 2086.3,752.1 2087.5,753.0 2088.8,754.1 2090.2,754.5 2091.7,754.4 2093.2,754.3 2094.8,754.0 2096.1,753.7 2097.3,753.0 2098.3,751.9 2099.3,750.6 2100.4,749.4 2101.5,748.3 2102.7,747.6 2104.1,747.0 2105.5,746.5 2107.0,746.0 2108.5,745.7 2110.0,745.4 2111.5,745.3 2113.0,745.1 2114.5,745.0 2115.9,745.0 2117.2,745.4 2118.4,746.2 2119.6,747.3 2120.7,748.6 2121.8,749.8 2122.8,750.8 2123.7,752.0 2124.7,753.2 2125.5,754.4 2126.4,755.6 2127.3,756.9 2128.1,758.1 2129.0,759.3 2129.9,760.6 2130.8,762.0 2131.6,763.6 2132.5,765.1 2133.4,766.4 2134.3,767.4 2135.4,768.0 2136.7,767.9 2138.2,767.7 2139.7,767.3 2141.2,766.9 2142.5,766.0 2143.7,764.9 2144.9,764.0 2146.2,763.8 2147.4,764.5 2148.6,765.7 2149.8,766.9 2151.1,767.8 2152.4,768.0 2153.9,768.0 2155.4,767.9 2157.0,767.8 2158.5,767.6 2159.9,767.4 2161.3,767.0 2162.6,766.3 2163.9,765.5 2165.2,764.6 2166.4,763.7 2167.7,762.8 2169.1,762.2 2170.5,761.7 2171.9,761.2 2173.3,760.7 2174.8,760.2 2176.3,759.9 2177.8,759.6 2179.2,759.5 2180.7,759.5 2182.2,759.5 2183.7,759.5 2185.2,759.5 2186.7,759.5 2188.2,759.5 2189.7,759.5 2191.2,759.5 2192.7,759.5 2194.3,759.8 2195.9,760.1 2197.4,760.5 2198.8,760.8 2200.0,760.7 2201.1,760.3 2202.1,759.3 2203.1,758.1 2204.1,756.7 2205.0,755.2 2206.0,753.8 2207.0,752.5 2208.0,751.4 2209.0,750.4 2210.1,749.3 2211.1,748.2 2212.1,747.1 2213.2,746.0 2214.3,745.0 2215.4,743.9 2216.5,743.0 2217.6,742.0 2218.8,740.8 2219.9,739.6 2221.1,738.5 2222.4,737.7 2223.6,737.1 2224.9,737.0 2226.3,737.0 2227.7,737.0 2229.1,737.0 2230.6,737.0 2232.0,737.1 2233.6,737.1 2235.1,737.1 2236.7,737.2 2238.3,737.3 2240.0,737.4"/>
</g>
<g id="markers-black">
<line x1="1554" y1="195" x2="1554" y2="994.5" stroke="#000000" stroke-width="6" stroke-dasharray="13.3 7.99" shape-rendering="crispEdges"/>
<line x1="1692" y1="351.8" x2="1692" y2="1151" stroke="#000000" stroke-width="6" stroke-dasharray="13.3 7.99" shape-rendering="crispEdges"/>
<line x1="2052" y1="203" x2="2052" y2="1001" stroke="#000000" stroke-width="6" stroke-dasharray="13.3 7.99" shape-rendering="crispEdges"/>
</g>
<g id="markers-red">
<line x1="527" y1="204.5" x2="527" y2="899" stroke="#ff0000" stroke-width="6" stroke-dasharray="13.3 7.99" shape-rendering="crispEdges"/>
<line x1="772" y1="328.8" x2="772" y2="1022" stroke="#ff0000" stroke-width="6" stroke-dasharray="13.3 7.99" shape-rendering="crispEdges"/>
<line x1="815.5" y1="328.8" x2="815.5" y2="1022" stroke="#ff0000" stroke-width="7" stroke-dasharray="13.3 7.99" shape-rendering="crispEdges"/>
<line x1="1171" y1="185" x2="1171" y2="878" stroke="#ff0000" stroke-width="6" stroke-dasharray="13.3 7.99" shape-rendering="crispEdges"/>
<line x1="1497" y1="345.5" x2="1497" y2="1145" stroke="#ff0000" stroke-width="6" stroke-dasharray="13.3 7.99" shape-rendering="crispEdges"/>
<line x1="1620" y1="344.5" x2="1620" y2="1143.8" stroke="#ff0000" stroke-width="6" stroke-dasharray="13.3 7.99" shape-rendering="crispEdges"/>
</g>
<g id="tick-labels" font-family="'Liberation Sans', Arial, sans-serif" font-size="66.67" text-anchor="middle">
<text transform="translate(125.0,1416.1) scale(0.983,1.015)">4000</text>
<text transform="translate(426.8,1416.1) scale(0.983,1.015)">3500</text>
<text transform="translate(728.6,1416.1) scale(0.983,1.015)">3000</text>
<text transform="translate(1030.4,1416.1) scale(0.983,1.015)">2500</text>
<text transform="translate(1332.1,1416.1) scale(0.983,1.015)">2000</text>
<text transform="translate(1633.9,1416.1) scale(0.983,1.015)">1500</text>
<text transform="translate(1935.7,1416.1) scale(0.983,1.015)">1000</text>
<text transform="translate(2237.5,1416.1) scale(0.983,1.015)">500</text>
</g>
<g id="peak-labels">
<text x="530.5" y="179.3" text-anchor="middle" font-family="'Liberation Serif', 'Times New Roman', serif" font-size="54">3335</text>
<text x="1161.8" y="155.1" text-anchor="middle" font-family="'Liberation Serif', 'Times New Roman', serif" font-size="54">2267</text>
<text x="1549.2" y="178.6" text-anchor="middle" font-family="'Liberation Serif', 'Times New Roman', serif" font-size="54">1640</text>
<text x="1627.5" y="327.9" text-anchor="middle" font-family="'Liberation Serif', 'Times New Roman', serif" font-size="54">1528</text>
<text x="686.5" y="1023.1" text-anchor="middle" font-family="'Liberation Serif', 'Times New Roman', serif" font-size="54">2930</text>
<text x="887.3" y="1020.3" text-anchor="middle" font-family="'Liberation Serif', 'Times New Roman', serif" font-size="54">2856</text>
<text x="1481.9" y="1213.8" text-anchor="middle" font-family="'Liberation Serif', 'Times New Roman', serif" font-size="54">1730</text>
<text x="1696.9" y="1218.1" text-anchor="middle" font-family="'Liberation Serif', 'Times New Roman', serif" font-size="54">1409</text>
<text x="2050.5" y="1071.8" text-anchor="middle" font-family="'Liberation Serif', 'Times New Roman', serif" font-size="54">810</text>
</g>
<g id="legend">
<line x1="174.7" y1="1116" x2="311" y2="1116" stroke="#ff00ff" stroke-width="8.33"/>
<line x1="174.7" y1="1188.7" x2="311" y2="1188.7" stroke="#0000ff" stroke-width="8.33"/>
<text x="325.5" y="1135" text-anchor="start" font-family="'Liberation Serif', 'Times New Roman', serif" font-size="60">Before emulsification</text>
<text x="326" y="1208.5" text-anchor="start" font-family="'Liberation Serif', 'Times New Roman', serif" font-size="60">After emulsification</text>
</g>
<text id="x-title" x="875" y="1492.7" font-family="'Liberation Serif', 'Times New Roman', serif" font-size="86">Wavenumber (cm<tspan font-size="72" dx="8.2" dy="-30.5">−</tspan><tspan font-size="72" dx="-7.3" dy="-2.5">1</tspan><tspan dx="-1.7" dy="33">)</tspan></text>
<text id="y-title" transform="translate(81.8,1025) rotate(-90)" font-family="'Liberation Serif', 'Times New Roman', serif" font-size="86">Transmittance (%)</text>
</svg>
</body></html>
